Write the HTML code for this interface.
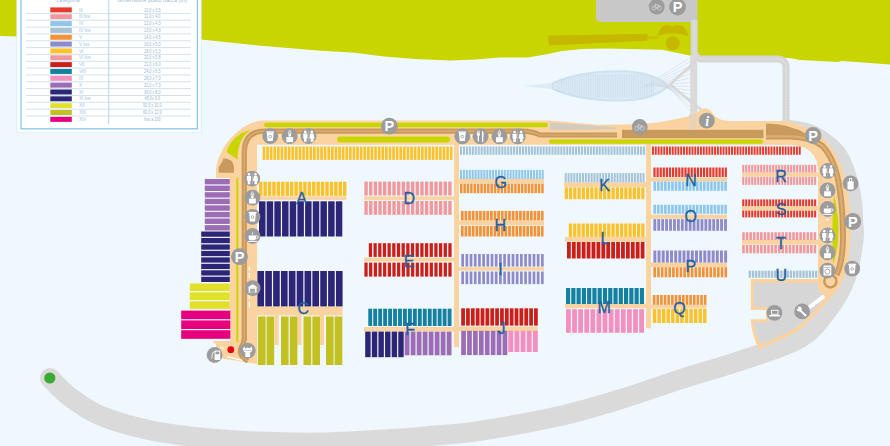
<!DOCTYPE html>
<html><head><meta charset="utf-8"><style>
html,body{margin:0;padding:0;background:#eff8fe;}
svg{display:block;font-family:"Liberation Sans",sans-serif;}
</style></head><body>
<svg width="890" height="446" viewBox="0 0 890 446">
<rect width="890" height="446" fill="#eff8fe"/>
<path d="M0 0H890V64.4L842 61L838 62L800 60L790 58L697 57V0H692L692 56L680 53.6L662 49.8L640 49.2L605 48.6L582 49L562 51L545 54.5L528 57.4L500 57.6L475 59.6L450 60.5L415 59L384 56.4L355 52.7L321 50.8L258 45.4L201 39.6L150 40.4L17 36.5L0 36Z" fill="#c9d500"/>
<path d="M548 35.4L647.6 33.8L647.6 40.8L549 45.5Z" fill="#c6b800"/>
<path d="M647 36.2L658 36L658 39L647 39.4Z" fill="#cbc400"/>
<circle cx="672.8" cy="43.2" r="7" fill="#c6b800"/>
<path d="M657.6 36.7Q659 29 663.2 26.1Q667 24.5 670.2 25.3L672 27L675 25.3Q680 24.8 682.3 26.1Q686.5 29 688.4 36.2Q680 32.6 672 33.6Q664 33.4 657.6 36.7Z" fill="#c6b800"/>
<path d="M596 0H697.5V22H601a5 5 0 0 1 -5 -5Z" fill="#c8c8c8"/>
<path d="M694.2 20V51a8 8 0 0 0 8 8H778a8 8 0 0 1 8 8V120" fill="none" stroke="#d6d6d6" stroke-width="7"/>
<path d="M694.2 20V51a8 8 0 0 0 8 8H778a8 8 0 0 1 8 8V120" fill="none" stroke="#efefef" stroke-width="1.1" stroke-dasharray="1 1.6"/>
<path d="M523.5 86L555 82.6V89.4Z" fill="#dcebf6"/>
<clipPath id="lc"><path d="M553 83C575 73 600 71 620 71.2C645 71.5 660 78 668.5 86C660 94 645 100.5 620 100.6C600 100.6 575 99 553 89Z"/></clipPath>
<path d="M553 83C575 73 600 71 620 71.2C645 71.5 660 78 668.5 86C660 94 645 100.5 620 100.6C600 100.6 575 99 553 89Z" fill="#deecf6" stroke="#cfe2f0" stroke-width="2"/>
<g clip-path="url(#lc)" stroke="#c3d9ea" stroke-width="0.55"><line x1="556.0" y1="74" x2="556.0" y2="98"/><line x1="557.8" y1="74" x2="557.8" y2="98"/><line x1="559.6" y1="74" x2="559.6" y2="98"/><line x1="561.4" y1="74" x2="561.4" y2="98"/><line x1="563.2" y1="74" x2="563.2" y2="98"/><line x1="565.0" y1="74" x2="565.0" y2="98"/><line x1="566.8" y1="74" x2="566.8" y2="98"/><line x1="568.6" y1="74" x2="568.6" y2="98"/><line x1="570.4" y1="74" x2="570.4" y2="98"/><line x1="572.2" y1="74" x2="572.2" y2="98"/><line x1="574.0" y1="74" x2="574.0" y2="98"/><line x1="575.8" y1="74" x2="575.8" y2="98"/><line x1="577.6" y1="74" x2="577.6" y2="98"/><line x1="579.4" y1="74" x2="579.4" y2="98"/><line x1="581.2" y1="74" x2="581.2" y2="98"/><line x1="583.0" y1="74" x2="583.0" y2="98"/><line x1="584.8" y1="74" x2="584.8" y2="98"/><line x1="586.6" y1="74" x2="586.6" y2="98"/><line x1="588.4" y1="74" x2="588.4" y2="98"/><line x1="590.2" y1="74" x2="590.2" y2="98"/><line x1="592.0" y1="74" x2="592.0" y2="98"/><line x1="593.8" y1="74" x2="593.8" y2="98"/><line x1="595.6" y1="74" x2="595.6" y2="98"/><line x1="597.4" y1="74" x2="597.4" y2="98"/><line x1="599.2" y1="74" x2="599.2" y2="98"/><line x1="601.0" y1="74" x2="601.0" y2="98"/><line x1="602.8" y1="74" x2="602.8" y2="98"/><line x1="604.6" y1="74" x2="604.6" y2="98"/><line x1="606.4" y1="74" x2="606.4" y2="98"/><line x1="608.2" y1="74" x2="608.2" y2="98"/><line x1="610.0" y1="74" x2="610.0" y2="98"/><line x1="611.8" y1="74" x2="611.8" y2="98"/><line x1="613.6" y1="74" x2="613.6" y2="98"/><line x1="615.4" y1="74" x2="615.4" y2="98"/><line x1="617.2" y1="74" x2="617.2" y2="98"/><line x1="619.0" y1="74" x2="619.0" y2="98"/><line x1="620.8" y1="74" x2="620.8" y2="98"/><line x1="622.6" y1="74" x2="622.6" y2="98"/><line x1="624.4" y1="74" x2="624.4" y2="98"/><line x1="626.2" y1="74" x2="626.2" y2="98"/><line x1="628.0" y1="74" x2="628.0" y2="98"/><line x1="629.8" y1="74" x2="629.8" y2="98"/><line x1="631.6" y1="74" x2="631.6" y2="98"/><line x1="633.4" y1="74" x2="633.4" y2="98"/><line x1="635.2" y1="74" x2="635.2" y2="98"/><line x1="637.0" y1="74" x2="637.0" y2="98"/><line x1="638.8" y1="74" x2="638.8" y2="98"/><line x1="640.6" y1="74" x2="640.6" y2="98"/><line x1="642.4" y1="74" x2="642.4" y2="98"/><line x1="644.2" y1="74" x2="644.2" y2="98"/><line x1="646.0" y1="74" x2="646.0" y2="98"/><line x1="647.8" y1="74" x2="647.8" y2="98"/><line x1="649.6" y1="74" x2="649.6" y2="98"/><line x1="651.4" y1="74" x2="651.4" y2="98"/><line x1="653.2" y1="74" x2="653.2" y2="98"/></g>
<rect x="690.3" y="55" width="6.9" height="75" fill="#dadada"/>
<g stroke="#c9d0d6" stroke-width="0.45" fill="none"><line x1="645.0" y1="86" x2="691" y2="57.0"/><line x1="646.8" y1="86" x2="691" y2="61.2"/><line x1="648.6" y1="86" x2="691" y2="65.4"/><line x1="650.4" y1="86" x2="691" y2="69.6"/><line x1="652.2" y1="86" x2="691" y2="73.8"/><line x1="654.0" y1="86" x2="691" y2="78.0"/><line x1="655.8" y1="86" x2="691" y2="82.2"/><line x1="657.6" y1="86" x2="691" y2="86.4"/><line x1="659.4" y1="86" x2="691" y2="90.6"/><line x1="661.2" y1="86" x2="691" y2="94.8"/><line x1="663.0" y1="86" x2="691" y2="99.0"/><line x1="664.8" y1="86" x2="691" y2="103.2"/><line x1="666.6" y1="86" x2="691" y2="107.4"/><line x1="668.4" y1="86" x2="691" y2="111.6"/></g>
<path d="M695 62L670 84.5L701.5 110" stroke="#d8d8d8" stroke-width="2.6" fill="none"/>
<path d="M50.0 378.0C53.3 381.2 61.7 390.8 70.0 397.0C78.3 403.2 86.7 409.9 100.0 415.5C113.3 421.1 133.3 426.6 150.0 430.3C166.7 434.0 181.7 435.6 200.0 437.5C218.3 439.4 240.0 440.8 260.0 441.6C280.0 442.5 300.0 442.9 320.0 442.6C340.0 442.3 361.7 440.9 380.0 439.8C398.3 438.7 413.3 437.5 430.0 436.0C446.7 434.5 458.3 434.1 480.0 430.8C501.7 427.5 536.7 421.2 560.0 416.0C583.3 410.8 599.9 405.5 620.0 399.4C640.1 393.3 660.5 385.7 680.7 379.2C700.9 372.7 721.5 367.3 741.4 360.5C761.3 353.7 785.4 347.1 800.0 338.3C814.6 329.6 821.3 318.2 829.0 308.0C836.7 297.8 841.9 288.3 846.0 277.0C850.1 265.7 852.3 249.2 853.5 240.0C854.7 230.8 853.4 227.8 853.2 222.0C853.0 216.2 853.2 211.5 852.4 205.0C851.6 198.5 849.9 189.4 848.3 183.0C846.7 176.6 845.1 171.5 843.0 166.5C840.9 161.5 839.0 157.2 835.5 153.0C832.0 148.8 826.8 144.3 822.0 141.0C817.2 137.7 812.5 134.9 806.5 133.0C800.5 131.1 789.4 130.1 786.0 129.5" fill="none" stroke="#dadada" stroke-width="20" stroke-linecap="round"/>
<circle cx="49.8" cy="378" r="5.6" fill="#3aaa35"/>
<rect x="16.8" y="-2" width="184.4" height="134.5" fill="#fff" stroke="#d6ebf8" stroke-width="0.8"/>
<rect x="21" y="-2" width="176.4" height="130.8" fill="none" stroke="#88c8ee" stroke-width="1.3"/>
<line x1="108.7" y1="0" x2="108.7" y2="124" stroke="#a9c9e0" stroke-width="0.8"/>
<text x="68" y="2.2" font-size="5.6" fill="#9cbcd8" text-anchor="middle">categoria</text>
<text x="152.4" y="2.2" font-size="5.6" fill="#9cbcd8" text-anchor="middle">dimensione posto barca (m)</text>
<rect x="50.30" y="7.40" width="21.50" height="5.00" fill="#e63a2c" />
<text x="79" y="11.5" font-size="4.6" fill="#9fc6e4">III</text>
<text transform="translate(152.3 11.5) scale(0.8 1)" font-size="4.7" fill="#98b4d0" text-anchor="middle">10,0 x 3,5</text>
<line x1="26" y1="13.4" x2="191" y2="13.4" stroke="#bcd6ea" stroke-width="0.7"/>
<rect x="50.30" y="14.24" width="21.50" height="5.00" fill="#f0989b" />
<text x="79" y="18.3" font-size="4.6" fill="#9fc6e4">III bis</text>
<text transform="translate(152.3 18.3) scale(0.8 1)" font-size="4.7" fill="#98b4d0" text-anchor="middle">11,0 x 4,0</text>
<line x1="26" y1="20.2" x2="191" y2="20.2" stroke="#bcd6ea" stroke-width="0.7"/>
<rect x="50.30" y="21.08" width="21.50" height="5.00" fill="#8fc6ec" />
<text x="79" y="25.2" font-size="4.6" fill="#9fc6e4">IV</text>
<text transform="translate(152.3 25.2) scale(0.8 1)" font-size="4.7" fill="#98b4d0" text-anchor="middle">12,0 x 4,3</text>
<line x1="26" y1="27.1" x2="191" y2="27.1" stroke="#bcd6ea" stroke-width="0.7"/>
<rect x="50.30" y="27.92" width="21.50" height="5.00" fill="#a6c3d6" />
<text x="79" y="32.0" font-size="4.6" fill="#9fc6e4">IV bis</text>
<text transform="translate(152.3 32.0) scale(0.8 1)" font-size="4.7" fill="#98b4d0" text-anchor="middle">13,0 x 4,3</text>
<line x1="26" y1="33.9" x2="191" y2="33.9" stroke="#bcd6ea" stroke-width="0.7"/>
<rect x="50.30" y="34.76" width="21.50" height="5.00" fill="#f39236" />
<text x="79" y="38.9" font-size="4.6" fill="#9fc6e4">V</text>
<text transform="translate(152.3 38.9) scale(0.8 1)" font-size="4.7" fill="#98b4d0" text-anchor="middle">14,0 x 4,5</text>
<line x1="26" y1="40.8" x2="191" y2="40.8" stroke="#bcd6ea" stroke-width="0.7"/>
<rect x="50.30" y="41.60" width="21.50" height="5.00" fill="#8f8bca" />
<text x="79" y="45.7" font-size="4.6" fill="#9fc6e4">V bis</text>
<text transform="translate(152.3 45.7) scale(0.8 1)" font-size="4.7" fill="#98b4d0" text-anchor="middle">16,0 x 5,0</text>
<line x1="26" y1="47.6" x2="191" y2="47.6" stroke="#bcd6ea" stroke-width="0.7"/>
<rect x="50.30" y="48.44" width="21.50" height="5.00" fill="#fcc22c" />
<text x="79" y="52.5" font-size="4.6" fill="#9fc6e4">VI</text>
<text transform="translate(152.3 52.5) scale(0.8 1)" font-size="4.7" fill="#98b4d0" text-anchor="middle">18,0 x 5,3</text>
<line x1="26" y1="54.4" x2="191" y2="54.4" stroke="#bcd6ea" stroke-width="0.7"/>
<rect x="50.30" y="55.28" width="21.50" height="5.00" fill="#f0989b" />
<text x="79" y="59.4" font-size="4.6" fill="#9fc6e4">VI bis</text>
<text transform="translate(152.3 59.4) scale(0.8 1)" font-size="4.7" fill="#98b4d0" text-anchor="middle">20,0 x 5,8</text>
<line x1="26" y1="61.3" x2="191" y2="61.3" stroke="#bcd6ea" stroke-width="0.7"/>
<rect x="50.30" y="62.12" width="21.50" height="5.00" fill="#cc1f1a" />
<text x="79" y="66.2" font-size="4.6" fill="#9fc6e4">VII</text>
<text transform="translate(152.3 66.2) scale(0.8 1)" font-size="4.7" fill="#98b4d0" text-anchor="middle">21,0 x 6,0</text>
<line x1="26" y1="68.1" x2="191" y2="68.1" stroke="#bcd6ea" stroke-width="0.7"/>
<rect x="50.30" y="68.96" width="21.50" height="5.00" fill="#13819f" />
<text x="79" y="73.1" font-size="4.6" fill="#9fc6e4">VIII</text>
<text transform="translate(152.3 73.1) scale(0.8 1)" font-size="4.7" fill="#98b4d0" text-anchor="middle">24,0 x 6,5</text>
<line x1="26" y1="75.0" x2="191" y2="75.0" stroke="#bcd6ea" stroke-width="0.7"/>
<rect x="50.30" y="75.80" width="21.50" height="5.00" fill="#f290c0" />
<text x="79" y="79.9" font-size="4.6" fill="#9fc6e4">IX</text>
<text transform="translate(152.3 79.9) scale(0.8 1)" font-size="4.7" fill="#98b4d0" text-anchor="middle">28,0 x 7,0</text>
<line x1="26" y1="81.8" x2="191" y2="81.8" stroke="#bcd6ea" stroke-width="0.7"/>
<rect x="50.30" y="82.64" width="21.50" height="5.00" fill="#9c6cb5" />
<text x="79" y="86.7" font-size="4.6" fill="#9fc6e4">X</text>
<text transform="translate(152.3 86.7) scale(0.8 1)" font-size="4.7" fill="#98b4d0" text-anchor="middle">32,0 x 7,3</text>
<line x1="26" y1="88.6" x2="191" y2="88.6" stroke="#bcd6ea" stroke-width="0.7"/>
<rect x="50.30" y="89.48" width="21.50" height="5.00" fill="#2d2676" />
<text x="79" y="93.6" font-size="4.6" fill="#9fc6e4">XI</text>
<text transform="translate(152.3 93.6) scale(0.8 1)" font-size="4.7" fill="#98b4d0" text-anchor="middle">36,0 x 8,0</text>
<line x1="26" y1="95.5" x2="191" y2="95.5" stroke="#bcd6ea" stroke-width="0.7"/>
<rect x="50.30" y="96.32" width="21.50" height="5.00" fill="#2d2676" />
<text x="79" y="100.4" font-size="4.6" fill="#9fc6e4">XI bis</text>
<text transform="translate(152.3 100.4) scale(0.8 1)" font-size="4.7" fill="#98b4d0" text-anchor="middle">45,0x 9,0</text>
<line x1="26" y1="102.3" x2="191" y2="102.3" stroke="#bcd6ea" stroke-width="0.7"/>
<rect x="50.30" y="103.16" width="21.50" height="5.00" fill="#e3e02b" />
<text x="79" y="107.3" font-size="4.6" fill="#9fc6e4">XII</text>
<text transform="translate(152.3 107.3) scale(0.8 1)" font-size="4.7" fill="#98b4d0" text-anchor="middle">50,0 x 10,0</text>
<line x1="26" y1="109.2" x2="191" y2="109.2" stroke="#bcd6ea" stroke-width="0.7"/>
<rect x="50.30" y="110.00" width="21.50" height="5.00" fill="#c3c021" />
<text x="79" y="114.1" font-size="4.6" fill="#9fc6e4">XIII</text>
<text transform="translate(152.3 114.1) scale(0.8 1)" font-size="4.7" fill="#98b4d0" text-anchor="middle">60,0 x 12,0</text>
<line x1="26" y1="116.0" x2="191" y2="116.0" stroke="#bcd6ea" stroke-width="0.7"/>
<rect x="50.30" y="116.84" width="21.50" height="5.00" fill="#e6007e" />
<text x="79" y="120.9" font-size="4.6" fill="#9fc6e4">XIV</text>
<text transform="translate(152.3 120.9) scale(0.8 1)" font-size="4.7" fill="#98b4d0" text-anchor="middle">fino a 100</text>
<path d="M775 121Q792 121 802 126Q812 129 818 134Q826 140 831 147Q837 155 840 163Q844 173 846 185Q849 198 850 212Q851 224 850.5 235Q850 246 849 255Q848 264 846 272Q844 280 840 286Q837.5 290.5 835 293L817.2 313Q808 322 803 327.2Q797 332 790 335.2L759 349.5Q755 342 752.2 331L750.8 322V319.2H766V310.1H750.8V279H818V172Q818 146 790 144.8H775Z" fill="#fbd3a0"/>
<path d="M754 282.5H818V287Q819.5 294.5 826.5 296.2L814.8 310.4Q806 320 800.6 324.4Q794 329 788.4 332.2L761.2 344.6Q757.5 338 755.2 330.5L754 322.2H769V307H754Z" fill="#d6d6d6"/>
<path d="M216 178V172C216 150 240 120.5 264 120.5H550L597 124.8C620 124.6 640 124.5 655 122.8C668 121.2 680 118.2 690 116C697 114 700 108.5 705 108.3C710 108.2 712 113 715 116C718 119 722 120.5 730 121H790V144.8H257V178Z" fill="#fbd3a0"/>
<rect x="230" y="144" width="27" height="200" fill="#fbd3a0"/>
<path d="M213 341.1H257V364L223 358.8L216 347Z" fill="#fbd3a0"/>
<rect x="264" y="122.8" width="284" height="4.5" rx="2.2" fill="#c9d500"/>
<rect x="337" y="136.4" width="113" height="6" rx="3" fill="#c9d500"/>
<rect x="549" y="139.4" width="214" height="4.4" rx="2.2" fill="#c9d500"/>
<path d="M550 122.6L616 127.4V129.3L550 130Z" fill="#d2cbbf"/>
<path d="M250.8 129.5C238 133 229 142 226.7 152L237.5 159.5C237.5 147 241 136 250.8 129.5Z" fill="#c9d500"/>
<path d="M218.6 172.7V167.2Q221.5 164 223.6 158.2Q233.6 158.8 234 167V172.7Z" fill="#c99a5e"/>
<path d="M244.3 340V152Q244.8 131.2 264 131.2H522Q532 131.2 540 135H617" fill="none" stroke="#c99a5e" stroke-width="5.2"/>
<path d="M244.3 340V152Q244.8 131.2 264 131.2H522Q532 131.2 540 135H617" fill="none" stroke="#dcae72" stroke-width="1.2"/>
<path d="M244.3 338Q244.3 342 241.5 347Q239 352 242 356Q244 359 248 361" fill="none" stroke="#c99a5e" stroke-width="5.2"/>
<path d="M244.3 338Q244.3 342 241.5 347Q239 352 242 356Q244 359 248 361" fill="none" stroke="#dcae72" stroke-width="1.2"/>
<path d="M249.3 266.4V270.2M249.3 273V277.9M249.3 293V298.8M249.3 301.7V307.4" stroke="#fff" stroke-width="1.3"/>
<path d="M215.3 343.6V347M220.5 346.6L224.4 349.2M227.2 356.6L242.4 360.3" stroke="#fff" stroke-width="1.3" fill="none"/>
<rect x="622" y="129.8" width="141.5" height="8.4" fill="#c99a5e"/>
<path d="M766 123.6Q790 124 806 134L804 135H766Z" fill="#c99a5e"/>
<path d="M766 136.4H790Q810 136.6 822.5 146Q835.5 160 839.5 188Q843.2 212 843 240Q842.5 262 836.5 275" fill="none" stroke="#c99a5e" stroke-width="6"/>
<path d="M766 136.4H790Q810 136.6 822.5 146Q835.5 160 839.5 188Q843.2 212 843 240Q842.5 262 836.5 275" fill="none" stroke="#dcae72" stroke-width="2.2"/>
<circle cx="830.4" cy="281.3" r="6.1" fill="none" stroke="#c99a5e" stroke-width="2.5"/>
<path d="M834 195Q839 215 838.4 232Q838 252 833 264Q832.4 250 832.4 232Q832.4 212 834 195Z" fill="#c9d500"/>
<rect x="236.3" y="178" width="2" height="164" fill="#c9d500"/>
<rect x="689" y="114.5" width="7.8" height="15" fill="#e9d3b8"/>
<rect x="454.00" y="144.00" width="5.00" height="203.30" fill="#fbd3a0" />
<rect x="646.00" y="144.00" width="5.00" height="184.30" fill="#fbd3a0" />
<rect x="364.00" y="196.40" width="90.00" height="3.50" fill="#fbd3a0" />
<rect x="364.00" y="257.60" width="90.00" height="3.90" fill="#fbd3a0" />
<rect x="364.00" y="327.00" width="95.00" height="4.50" fill="#fbd3a0" />
<rect x="459.00" y="178.80" width="85.00" height="4.80" fill="#fbd3a0" />
<rect x="459.00" y="220.70" width="85.00" height="4.30" fill="#fbd3a0" />
<rect x="459.00" y="267.20" width="85.00" height="3.40" fill="#fbd3a0" />
<rect x="459.00" y="326.50" width="78.60" height="5.00" fill="#fbd3a0" />
<rect x="564.00" y="182.40" width="82.00" height="4.60" fill="#fbd3a0" />
<rect x="565.00" y="237.00" width="81.00" height="4.80" fill="#fbd3a0" />
<rect x="565.00" y="303.60" width="81.00" height="4.60" fill="#fbd3a0" />
<rect x="651.00" y="177.40" width="76.00" height="4.00" fill="#fbd3a0" />
<rect x="651.00" y="214.60" width="76.00" height="4.20" fill="#fbd3a0" />
<rect x="651.00" y="262.50" width="76.00" height="4.50" fill="#fbd3a0" />
<rect x="651.00" y="304.70" width="55.30" height="3.90" fill="#fbd3a0" />
<rect x="742.00" y="172.50" width="76.00" height="4.10" fill="#fbd3a0" />
<rect x="742.00" y="206.10" width="76.00" height="4.30" fill="#fbd3a0" />
<rect x="742.00" y="239.80" width="76.00" height="4.80" fill="#fbd3a0" />
<rect x="257.00" y="196.30" width="89.40" height="3.50" fill="#fbd3a0" />
<rect x="257.00" y="306.40" width="85.60" height="9.10" fill="#fbd3a0" />
<rect x="274.60" y="315.00" width="4.00" height="30.00" fill="#fbd3a0" />
<rect x="297.40" y="315.00" width="4.00" height="30.00" fill="#fbd3a0" />
<rect x="320.00" y="315.00" width="4.00" height="30.00" fill="#fbd3a0" />
<g fill="#fcc22c"><rect x="262.60" y="146.50" width="2.70" height="13.40"/><rect x="266.20" y="146.50" width="2.70" height="13.40"/><rect x="269.80" y="146.50" width="2.70" height="13.40"/><rect x="273.40" y="146.50" width="2.70" height="13.40"/><rect x="277.00" y="146.50" width="2.70" height="13.40"/><rect x="280.60" y="146.50" width="2.70" height="13.40"/><rect x="284.20" y="146.50" width="2.70" height="13.40"/><rect x="287.80" y="146.50" width="2.70" height="13.40"/><rect x="291.40" y="146.50" width="2.70" height="13.40"/><rect x="295.00" y="146.50" width="2.70" height="13.40"/><rect x="298.60" y="146.50" width="2.70" height="13.40"/><rect x="302.20" y="146.50" width="2.70" height="13.40"/><rect x="305.80" y="146.50" width="2.70" height="13.40"/><rect x="309.40" y="146.50" width="2.70" height="13.40"/><rect x="313.00" y="146.50" width="2.70" height="13.40"/><rect x="316.60" y="146.50" width="2.70" height="13.40"/><rect x="320.20" y="146.50" width="2.70" height="13.40"/><rect x="323.80" y="146.50" width="2.70" height="13.40"/><rect x="327.40" y="146.50" width="2.70" height="13.40"/><rect x="331.00" y="146.50" width="2.70" height="13.40"/><rect x="334.60" y="146.50" width="2.70" height="13.40"/><rect x="338.20" y="146.50" width="2.70" height="13.40"/><rect x="341.80" y="146.50" width="2.70" height="13.40"/><rect x="345.40" y="146.50" width="2.70" height="13.40"/><rect x="349.00" y="146.50" width="2.70" height="13.40"/><rect x="352.60" y="146.50" width="2.70" height="13.40"/><rect x="356.20" y="146.50" width="2.70" height="13.40"/><rect x="359.80" y="146.50" width="2.70" height="13.40"/><rect x="363.40" y="146.50" width="2.70" height="13.40"/><rect x="367.00" y="146.50" width="2.70" height="13.40"/><rect x="370.60" y="146.50" width="2.70" height="13.40"/><rect x="374.20" y="146.50" width="2.70" height="13.40"/><rect x="377.80" y="146.50" width="2.70" height="13.40"/><rect x="381.40" y="146.50" width="2.70" height="13.40"/><rect x="385.00" y="146.50" width="2.70" height="13.40"/><rect x="388.60" y="146.50" width="2.70" height="13.40"/><rect x="392.20" y="146.50" width="2.70" height="13.40"/><rect x="395.80" y="146.50" width="2.70" height="13.40"/><rect x="399.40" y="146.50" width="2.70" height="13.40"/><rect x="403.00" y="146.50" width="2.70" height="13.40"/><rect x="406.60" y="146.50" width="2.70" height="13.40"/><rect x="410.20" y="146.50" width="2.70" height="13.40"/><rect x="413.80" y="146.50" width="2.70" height="13.40"/><rect x="417.40" y="146.50" width="2.70" height="13.40"/><rect x="421.00" y="146.50" width="2.70" height="13.40"/><rect x="424.60" y="146.50" width="2.70" height="13.40"/><rect x="428.20" y="146.50" width="2.70" height="13.40"/><rect x="431.80" y="146.50" width="2.70" height="13.40"/><rect x="435.40" y="146.50" width="2.70" height="13.40"/><rect x="439.00" y="146.50" width="2.70" height="13.40"/><rect x="442.60" y="146.50" width="2.70" height="13.40"/><rect x="446.20" y="146.50" width="2.70" height="13.40"/><rect x="449.80" y="146.50" width="2.70" height="13.40"/></g>
<g fill="#a6c3d6"><rect x="460.00" y="146.50" width="2.05" height="8.30"/><rect x="462.95" y="146.50" width="2.05" height="8.30"/><rect x="465.90" y="146.50" width="2.05" height="8.30"/><rect x="468.85" y="146.50" width="2.05" height="8.30"/><rect x="471.80" y="146.50" width="2.05" height="8.30"/><rect x="474.75" y="146.50" width="2.05" height="8.30"/><rect x="477.70" y="146.50" width="2.05" height="8.30"/><rect x="480.66" y="146.50" width="2.05" height="8.30"/><rect x="483.61" y="146.50" width="2.05" height="8.30"/><rect x="486.56" y="146.50" width="2.05" height="8.30"/><rect x="489.51" y="146.50" width="2.05" height="8.30"/><rect x="492.46" y="146.50" width="2.05" height="8.30"/><rect x="495.41" y="146.50" width="2.05" height="8.30"/><rect x="498.36" y="146.50" width="2.05" height="8.30"/><rect x="501.31" y="146.50" width="2.05" height="8.30"/><rect x="504.26" y="146.50" width="2.05" height="8.30"/><rect x="507.21" y="146.50" width="2.05" height="8.30"/><rect x="510.16" y="146.50" width="2.05" height="8.30"/><rect x="513.11" y="146.50" width="2.05" height="8.30"/><rect x="516.07" y="146.50" width="2.05" height="8.30"/><rect x="519.02" y="146.50" width="2.05" height="8.30"/><rect x="521.97" y="146.50" width="2.05" height="8.30"/><rect x="524.92" y="146.50" width="2.05" height="8.30"/><rect x="527.87" y="146.50" width="2.05" height="8.30"/><rect x="530.82" y="146.50" width="2.05" height="8.30"/><rect x="533.77" y="146.50" width="2.05" height="8.30"/><rect x="536.72" y="146.50" width="2.05" height="8.30"/><rect x="539.67" y="146.50" width="2.05" height="8.30"/><rect x="542.62" y="146.50" width="2.05" height="8.30"/><rect x="545.57" y="146.50" width="2.05" height="8.30"/><rect x="548.52" y="146.50" width="2.05" height="8.30"/><rect x="551.47" y="146.50" width="2.05" height="8.30"/><rect x="554.43" y="146.50" width="2.05" height="8.30"/><rect x="557.38" y="146.50" width="2.05" height="8.30"/><rect x="560.33" y="146.50" width="2.05" height="8.30"/><rect x="563.28" y="146.50" width="2.05" height="8.30"/><rect x="566.23" y="146.50" width="2.05" height="8.30"/><rect x="569.18" y="146.50" width="2.05" height="8.30"/><rect x="572.13" y="146.50" width="2.05" height="8.30"/><rect x="575.08" y="146.50" width="2.05" height="8.30"/><rect x="578.03" y="146.50" width="2.05" height="8.30"/><rect x="580.98" y="146.50" width="2.05" height="8.30"/><rect x="583.93" y="146.50" width="2.05" height="8.30"/><rect x="586.88" y="146.50" width="2.05" height="8.30"/><rect x="589.83" y="146.50" width="2.05" height="8.30"/><rect x="592.79" y="146.50" width="2.05" height="8.30"/><rect x="595.74" y="146.50" width="2.05" height="8.30"/><rect x="598.69" y="146.50" width="2.05" height="8.30"/><rect x="601.64" y="146.50" width="2.05" height="8.30"/><rect x="604.59" y="146.50" width="2.05" height="8.30"/><rect x="607.54" y="146.50" width="2.05" height="8.30"/><rect x="610.49" y="146.50" width="2.05" height="8.30"/><rect x="613.44" y="146.50" width="2.05" height="8.30"/><rect x="616.39" y="146.50" width="2.05" height="8.30"/><rect x="619.34" y="146.50" width="2.05" height="8.30"/><rect x="622.29" y="146.50" width="2.05" height="8.30"/><rect x="625.24" y="146.50" width="2.05" height="8.30"/><rect x="628.20" y="146.50" width="2.05" height="8.30"/><rect x="631.15" y="146.50" width="2.05" height="8.30"/><rect x="634.10" y="146.50" width="2.05" height="8.30"/><rect x="637.05" y="146.50" width="2.05" height="8.30"/><rect x="640.00" y="146.50" width="2.05" height="8.30"/><rect x="642.95" y="146.50" width="2.05" height="8.30"/></g>
<g fill="#e63a2c"><rect x="652.00" y="146.50" width="1.92" height="8.30"/><rect x="654.82" y="146.50" width="1.92" height="8.30"/><rect x="657.65" y="146.50" width="1.92" height="8.30"/><rect x="660.47" y="146.50" width="1.92" height="8.30"/><rect x="663.29" y="146.50" width="1.92" height="8.30"/><rect x="666.11" y="146.50" width="1.92" height="8.30"/><rect x="668.94" y="146.50" width="1.92" height="8.30"/><rect x="671.76" y="146.50" width="1.92" height="8.30"/><rect x="674.58" y="146.50" width="1.92" height="8.30"/><rect x="677.40" y="146.50" width="1.92" height="8.30"/><rect x="680.23" y="146.50" width="1.92" height="8.30"/><rect x="683.05" y="146.50" width="1.92" height="8.30"/><rect x="685.87" y="146.50" width="1.92" height="8.30"/><rect x="688.69" y="146.50" width="1.92" height="8.30"/><rect x="691.52" y="146.50" width="1.92" height="8.30"/><rect x="694.34" y="146.50" width="1.92" height="8.30"/><rect x="697.16" y="146.50" width="1.92" height="8.30"/><rect x="699.98" y="146.50" width="1.92" height="8.30"/><rect x="702.81" y="146.50" width="1.92" height="8.30"/><rect x="705.63" y="146.50" width="1.92" height="8.30"/><rect x="708.45" y="146.50" width="1.92" height="8.30"/><rect x="711.28" y="146.50" width="1.92" height="8.30"/><rect x="714.10" y="146.50" width="1.92" height="8.30"/><rect x="716.92" y="146.50" width="1.92" height="8.30"/><rect x="719.74" y="146.50" width="1.92" height="8.30"/><rect x="722.57" y="146.50" width="1.92" height="8.30"/><rect x="725.39" y="146.50" width="1.92" height="8.30"/><rect x="728.21" y="146.50" width="1.92" height="8.30"/><rect x="731.03" y="146.50" width="1.92" height="8.30"/><rect x="733.86" y="146.50" width="1.92" height="8.30"/><rect x="736.68" y="146.50" width="1.92" height="8.30"/><rect x="739.50" y="146.50" width="1.92" height="8.30"/><rect x="742.32" y="146.50" width="1.92" height="8.30"/><rect x="745.15" y="146.50" width="1.92" height="8.30"/><rect x="747.97" y="146.50" width="1.92" height="8.30"/><rect x="750.79" y="146.50" width="1.92" height="8.30"/><rect x="753.62" y="146.50" width="1.92" height="8.30"/><rect x="756.44" y="146.50" width="1.92" height="8.30"/><rect x="759.26" y="146.50" width="1.92" height="8.30"/><rect x="762.08" y="146.50" width="1.92" height="8.30"/><rect x="764.91" y="146.50" width="1.92" height="8.30"/><rect x="767.73" y="146.50" width="1.92" height="8.30"/><rect x="770.55" y="146.50" width="1.92" height="8.30"/><rect x="773.37" y="146.50" width="1.92" height="8.30"/><rect x="776.20" y="146.50" width="1.92" height="8.30"/><rect x="779.02" y="146.50" width="1.92" height="8.30"/><rect x="781.84" y="146.50" width="1.92" height="8.30"/><rect x="784.66" y="146.50" width="1.92" height="8.30"/><rect x="787.49" y="146.50" width="1.92" height="8.30"/><rect x="790.31" y="146.50" width="1.92" height="8.30"/><rect x="793.13" y="146.50" width="1.92" height="8.30"/><rect x="795.95" y="146.50" width="1.92" height="8.30"/><rect x="798.78" y="146.50" width="1.92" height="8.30"/></g>
<g fill="#fcc22c"><rect x="259.00" y="181.70" width="3.42" height="14.20"/><rect x="263.42" y="181.70" width="3.42" height="14.20"/><rect x="267.84" y="181.70" width="3.42" height="14.20"/><rect x="272.26" y="181.70" width="3.42" height="14.20"/><rect x="276.68" y="181.70" width="3.42" height="14.20"/><rect x="281.10" y="181.70" width="3.42" height="14.20"/><rect x="285.52" y="181.70" width="3.42" height="14.20"/><rect x="289.94" y="181.70" width="3.42" height="14.20"/><rect x="294.36" y="181.70" width="3.42" height="14.20"/><rect x="298.78" y="181.70" width="3.42" height="14.20"/><rect x="303.20" y="181.70" width="3.42" height="14.20"/><rect x="307.62" y="181.70" width="3.42" height="14.20"/><rect x="312.04" y="181.70" width="3.42" height="14.20"/><rect x="316.46" y="181.70" width="3.42" height="14.20"/><rect x="320.88" y="181.70" width="3.42" height="14.20"/><rect x="325.30" y="181.70" width="3.42" height="14.20"/><rect x="329.72" y="181.70" width="3.42" height="14.20"/><rect x="334.14" y="181.70" width="3.42" height="14.20"/><rect x="338.56" y="181.70" width="3.42" height="14.20"/><rect x="342.98" y="181.70" width="3.42" height="14.20"/></g>
<g fill="#2d2676"><rect x="259.00" y="201.30" width="6.48" height="35.20"/><rect x="266.68" y="201.30" width="6.48" height="35.20"/><rect x="274.36" y="201.30" width="6.48" height="35.20"/><rect x="282.05" y="201.30" width="6.48" height="35.20"/><rect x="289.73" y="201.30" width="6.48" height="35.20"/><rect x="297.41" y="201.30" width="6.48" height="35.20"/><rect x="305.09" y="201.30" width="6.48" height="35.20"/><rect x="312.77" y="201.30" width="6.48" height="35.20"/><rect x="320.45" y="201.30" width="6.48" height="35.20"/><rect x="328.14" y="201.30" width="6.48" height="35.20"/><rect x="335.82" y="201.30" width="6.48" height="35.20"/></g>
<g fill="#2d2676"><rect x="257.40" y="271.00" width="6.65" height="35.40"/><rect x="265.25" y="271.00" width="6.65" height="35.40"/><rect x="273.11" y="271.00" width="6.65" height="35.40"/><rect x="280.96" y="271.00" width="6.65" height="35.40"/><rect x="288.82" y="271.00" width="6.65" height="35.40"/><rect x="296.67" y="271.00" width="6.65" height="35.40"/><rect x="304.53" y="271.00" width="6.65" height="35.40"/><rect x="312.38" y="271.00" width="6.65" height="35.40"/><rect x="320.24" y="271.00" width="6.65" height="35.40"/><rect x="328.09" y="271.00" width="6.65" height="35.40"/><rect x="335.95" y="271.00" width="6.65" height="35.40"/></g>
<rect x="257.90" y="316.50" width="7.70" height="48.50" fill="#c3c021" />
<rect x="266.60" y="316.50" width="7.60" height="48.50" fill="#c3c021" />
<rect x="281.00" y="316.50" width="7.60" height="48.50" fill="#c3c021" />
<rect x="289.80" y="316.50" width="7.60" height="48.50" fill="#c3c021" />
<rect x="303.50" y="316.50" width="7.70" height="48.50" fill="#c3c021" />
<rect x="312.40" y="316.50" width="7.60" height="48.50" fill="#c3c021" />
<rect x="326.00" y="316.50" width="7.60" height="48.50" fill="#c3c021" />
<rect x="334.60" y="316.50" width="7.70" height="48.50" fill="#c3c021" />
<g fill="#f0989b"><rect x="364.40" y="181.60" width="3.36" height="13.90"/><rect x="369.06" y="181.60" width="3.36" height="13.90"/><rect x="373.72" y="181.60" width="3.36" height="13.90"/><rect x="378.37" y="181.60" width="3.36" height="13.90"/><rect x="383.03" y="181.60" width="3.36" height="13.90"/><rect x="387.69" y="181.60" width="3.36" height="13.90"/><rect x="392.35" y="181.60" width="3.36" height="13.90"/><rect x="397.01" y="181.60" width="3.36" height="13.90"/><rect x="401.66" y="181.60" width="3.36" height="13.90"/><rect x="406.32" y="181.60" width="3.36" height="13.90"/><rect x="410.98" y="181.60" width="3.36" height="13.90"/><rect x="415.64" y="181.60" width="3.36" height="13.90"/><rect x="420.29" y="181.60" width="3.36" height="13.90"/><rect x="424.95" y="181.60" width="3.36" height="13.90"/><rect x="429.61" y="181.60" width="3.36" height="13.90"/><rect x="434.27" y="181.60" width="3.36" height="13.90"/><rect x="438.93" y="181.60" width="3.36" height="13.90"/><rect x="443.58" y="181.60" width="3.36" height="13.90"/><rect x="448.24" y="181.60" width="3.36" height="13.90"/></g>
<g fill="#f0989b"><rect x="364.40" y="200.90" width="3.36" height="13.90"/><rect x="369.06" y="200.90" width="3.36" height="13.90"/><rect x="373.72" y="200.90" width="3.36" height="13.90"/><rect x="378.37" y="200.90" width="3.36" height="13.90"/><rect x="383.03" y="200.90" width="3.36" height="13.90"/><rect x="387.69" y="200.90" width="3.36" height="13.90"/><rect x="392.35" y="200.90" width="3.36" height="13.90"/><rect x="397.01" y="200.90" width="3.36" height="13.90"/><rect x="401.66" y="200.90" width="3.36" height="13.90"/><rect x="406.32" y="200.90" width="3.36" height="13.90"/><rect x="410.98" y="200.90" width="3.36" height="13.90"/><rect x="415.64" y="200.90" width="3.36" height="13.90"/><rect x="420.29" y="200.90" width="3.36" height="13.90"/><rect x="424.95" y="200.90" width="3.36" height="13.90"/><rect x="429.61" y="200.90" width="3.36" height="13.90"/><rect x="434.27" y="200.90" width="3.36" height="13.90"/><rect x="438.93" y="200.90" width="3.36" height="13.90"/><rect x="443.58" y="200.90" width="3.36" height="13.90"/><rect x="448.24" y="200.90" width="3.36" height="13.90"/></g>
<g fill="#cc1f1a"><rect x="368.80" y="243.20" width="3.28" height="13.70"/><rect x="373.48" y="243.20" width="3.28" height="13.70"/><rect x="378.16" y="243.20" width="3.28" height="13.70"/><rect x="382.83" y="243.20" width="3.28" height="13.70"/><rect x="387.51" y="243.20" width="3.28" height="13.70"/><rect x="392.19" y="243.20" width="3.28" height="13.70"/><rect x="396.87" y="243.20" width="3.28" height="13.70"/><rect x="401.54" y="243.20" width="3.28" height="13.70"/><rect x="406.22" y="243.20" width="3.28" height="13.70"/><rect x="410.90" y="243.20" width="3.28" height="13.70"/><rect x="415.58" y="243.20" width="3.28" height="13.70"/><rect x="420.26" y="243.20" width="3.28" height="13.70"/><rect x="424.93" y="243.20" width="3.28" height="13.70"/><rect x="429.61" y="243.20" width="3.28" height="13.70"/><rect x="434.29" y="243.20" width="3.28" height="13.70"/><rect x="438.97" y="243.20" width="3.28" height="13.70"/><rect x="443.64" y="243.20" width="3.28" height="13.70"/><rect x="448.32" y="243.20" width="3.28" height="13.70"/></g>
<g fill="#cc1f1a"><rect x="364.40" y="262.60" width="3.26" height="14.00"/><rect x="369.06" y="262.60" width="3.26" height="14.00"/><rect x="373.73" y="262.60" width="3.26" height="14.00"/><rect x="378.39" y="262.60" width="3.26" height="14.00"/><rect x="383.05" y="262.60" width="3.26" height="14.00"/><rect x="387.72" y="262.60" width="3.26" height="14.00"/><rect x="392.38" y="262.60" width="3.26" height="14.00"/><rect x="397.04" y="262.60" width="3.26" height="14.00"/><rect x="401.71" y="262.60" width="3.26" height="14.00"/><rect x="406.37" y="262.60" width="3.26" height="14.00"/><rect x="411.03" y="262.60" width="3.26" height="14.00"/><rect x="415.69" y="262.60" width="3.26" height="14.00"/><rect x="420.36" y="262.60" width="3.26" height="14.00"/><rect x="425.02" y="262.60" width="3.26" height="14.00"/><rect x="429.68" y="262.60" width="3.26" height="14.00"/><rect x="434.35" y="262.60" width="3.26" height="14.00"/><rect x="439.01" y="262.60" width="3.26" height="14.00"/><rect x="443.67" y="262.60" width="3.26" height="14.00"/><rect x="448.34" y="262.60" width="3.26" height="14.00"/></g>
<g fill="#13819f"><rect x="368.30" y="308.70" width="3.86" height="17.30"/><rect x="373.26" y="308.70" width="3.86" height="17.30"/><rect x="378.22" y="308.70" width="3.86" height="17.30"/><rect x="383.18" y="308.70" width="3.86" height="17.30"/><rect x="388.14" y="308.70" width="3.86" height="17.30"/><rect x="393.09" y="308.70" width="3.86" height="17.30"/><rect x="398.05" y="308.70" width="3.86" height="17.30"/><rect x="403.01" y="308.70" width="3.86" height="17.30"/><rect x="407.97" y="308.70" width="3.86" height="17.30"/><rect x="412.93" y="308.70" width="3.86" height="17.30"/><rect x="417.89" y="308.70" width="3.86" height="17.30"/><rect x="422.85" y="308.70" width="3.86" height="17.30"/><rect x="427.81" y="308.70" width="3.86" height="17.30"/><rect x="432.76" y="308.70" width="3.86" height="17.30"/><rect x="437.72" y="308.70" width="3.86" height="17.30"/><rect x="442.68" y="308.70" width="3.86" height="17.30"/><rect x="447.64" y="308.70" width="3.86" height="17.30"/></g>
<g fill="#2d2676"><rect x="365.20" y="331.60" width="5.42" height="25.60"/><rect x="371.82" y="331.60" width="5.42" height="25.60"/><rect x="378.43" y="331.60" width="5.42" height="25.60"/><rect x="385.05" y="331.60" width="5.42" height="25.60"/><rect x="391.67" y="331.60" width="5.42" height="25.60"/><rect x="398.28" y="331.60" width="5.42" height="25.60"/></g>
<g fill="#9c6cb5"><rect x="404.70" y="331.60" width="4.80" height="23.70"/><rect x="410.70" y="331.60" width="4.80" height="23.70"/><rect x="416.70" y="331.60" width="4.80" height="23.70"/><rect x="422.70" y="331.60" width="4.80" height="23.70"/><rect x="428.70" y="331.60" width="4.80" height="23.70"/><rect x="434.70" y="331.60" width="4.80" height="23.70"/><rect x="440.70" y="331.60" width="4.80" height="23.70"/><rect x="446.70" y="331.60" width="4.80" height="23.70"/></g>
<g fill="#8fc6ec"><rect x="460.00" y="169.90" width="2.02" height="9.10"/><rect x="462.92" y="169.90" width="2.02" height="9.10"/><rect x="465.83" y="169.90" width="2.02" height="9.10"/><rect x="468.75" y="169.90" width="2.02" height="9.10"/><rect x="471.67" y="169.90" width="2.02" height="9.10"/><rect x="474.59" y="169.90" width="2.02" height="9.10"/><rect x="477.50" y="169.90" width="2.02" height="9.10"/><rect x="480.42" y="169.90" width="2.02" height="9.10"/><rect x="483.34" y="169.90" width="2.02" height="9.10"/><rect x="486.26" y="169.90" width="2.02" height="9.10"/><rect x="489.17" y="169.90" width="2.02" height="9.10"/><rect x="492.09" y="169.90" width="2.02" height="9.10"/><rect x="495.01" y="169.90" width="2.02" height="9.10"/><rect x="497.92" y="169.90" width="2.02" height="9.10"/><rect x="500.84" y="169.90" width="2.02" height="9.10"/><rect x="503.76" y="169.90" width="2.02" height="9.10"/><rect x="506.68" y="169.90" width="2.02" height="9.10"/><rect x="509.59" y="169.90" width="2.02" height="9.10"/><rect x="512.51" y="169.90" width="2.02" height="9.10"/><rect x="515.43" y="169.90" width="2.02" height="9.10"/><rect x="518.34" y="169.90" width="2.02" height="9.10"/><rect x="521.26" y="169.90" width="2.02" height="9.10"/><rect x="524.18" y="169.90" width="2.02" height="9.10"/><rect x="527.10" y="169.90" width="2.02" height="9.10"/><rect x="530.01" y="169.90" width="2.02" height="9.10"/><rect x="532.93" y="169.90" width="2.02" height="9.10"/><rect x="535.85" y="169.90" width="2.02" height="9.10"/><rect x="538.77" y="169.90" width="2.02" height="9.10"/><rect x="541.68" y="169.90" width="2.02" height="9.10"/></g>
<g fill="#f39236"><rect x="460.00" y="183.70" width="2.48" height="9.50"/><rect x="463.38" y="183.70" width="2.48" height="9.50"/><rect x="466.77" y="183.70" width="2.48" height="9.50"/><rect x="470.15" y="183.70" width="2.48" height="9.50"/><rect x="473.54" y="183.70" width="2.48" height="9.50"/><rect x="476.92" y="183.70" width="2.48" height="9.50"/><rect x="480.30" y="183.70" width="2.48" height="9.50"/><rect x="483.69" y="183.70" width="2.48" height="9.50"/><rect x="487.07" y="183.70" width="2.48" height="9.50"/><rect x="490.46" y="183.70" width="2.48" height="9.50"/><rect x="493.84" y="183.70" width="2.48" height="9.50"/><rect x="497.22" y="183.70" width="2.48" height="9.50"/><rect x="500.61" y="183.70" width="2.48" height="9.50"/><rect x="503.99" y="183.70" width="2.48" height="9.50"/><rect x="507.38" y="183.70" width="2.48" height="9.50"/><rect x="510.76" y="183.70" width="2.48" height="9.50"/><rect x="514.14" y="183.70" width="2.48" height="9.50"/><rect x="517.53" y="183.70" width="2.48" height="9.50"/><rect x="520.91" y="183.70" width="2.48" height="9.50"/><rect x="524.30" y="183.70" width="2.48" height="9.50"/><rect x="527.68" y="183.70" width="2.48" height="9.50"/><rect x="531.06" y="183.70" width="2.48" height="9.50"/><rect x="534.45" y="183.70" width="2.48" height="9.50"/><rect x="537.83" y="183.70" width="2.48" height="9.50"/><rect x="541.22" y="183.70" width="2.48" height="9.50"/></g>
<g fill="#f39236"><rect x="460.90" y="210.90" width="2.73" height="9.60"/><rect x="464.53" y="210.90" width="2.73" height="9.60"/><rect x="468.17" y="210.90" width="2.73" height="9.60"/><rect x="471.80" y="210.90" width="2.73" height="9.60"/><rect x="475.44" y="210.90" width="2.73" height="9.60"/><rect x="479.07" y="210.90" width="2.73" height="9.60"/><rect x="482.71" y="210.90" width="2.73" height="9.60"/><rect x="486.34" y="210.90" width="2.73" height="9.60"/><rect x="489.98" y="210.90" width="2.73" height="9.60"/><rect x="493.61" y="210.90" width="2.73" height="9.60"/><rect x="497.25" y="210.90" width="2.73" height="9.60"/><rect x="500.88" y="210.90" width="2.73" height="9.60"/><rect x="504.52" y="210.90" width="2.73" height="9.60"/><rect x="508.15" y="210.90" width="2.73" height="9.60"/><rect x="511.79" y="210.90" width="2.73" height="9.60"/><rect x="515.42" y="210.90" width="2.73" height="9.60"/><rect x="519.06" y="210.90" width="2.73" height="9.60"/><rect x="522.69" y="210.90" width="2.73" height="9.60"/><rect x="526.33" y="210.90" width="2.73" height="9.60"/><rect x="529.96" y="210.90" width="2.73" height="9.60"/><rect x="533.60" y="210.90" width="2.73" height="9.60"/><rect x="537.23" y="210.90" width="2.73" height="9.60"/><rect x="540.87" y="210.90" width="2.73" height="9.60"/></g>
<g fill="#f39236"><rect x="460.90" y="225.80" width="2.73" height="10.70"/><rect x="464.53" y="225.80" width="2.73" height="10.70"/><rect x="468.17" y="225.80" width="2.73" height="10.70"/><rect x="471.80" y="225.80" width="2.73" height="10.70"/><rect x="475.44" y="225.80" width="2.73" height="10.70"/><rect x="479.07" y="225.80" width="2.73" height="10.70"/><rect x="482.71" y="225.80" width="2.73" height="10.70"/><rect x="486.34" y="225.80" width="2.73" height="10.70"/><rect x="489.98" y="225.80" width="2.73" height="10.70"/><rect x="493.61" y="225.80" width="2.73" height="10.70"/><rect x="497.25" y="225.80" width="2.73" height="10.70"/><rect x="500.88" y="225.80" width="2.73" height="10.70"/><rect x="504.52" y="225.80" width="2.73" height="10.70"/><rect x="508.15" y="225.80" width="2.73" height="10.70"/><rect x="511.79" y="225.80" width="2.73" height="10.70"/><rect x="515.42" y="225.80" width="2.73" height="10.70"/><rect x="519.06" y="225.80" width="2.73" height="10.70"/><rect x="522.69" y="225.80" width="2.73" height="10.70"/><rect x="526.33" y="225.80" width="2.73" height="10.70"/><rect x="529.96" y="225.80" width="2.73" height="10.70"/><rect x="533.60" y="225.80" width="2.73" height="10.70"/><rect x="537.23" y="225.80" width="2.73" height="10.70"/><rect x="540.87" y="225.80" width="2.73" height="10.70"/></g>
<g fill="#8f8bca"><rect x="461.30" y="254.00" width="2.70" height="12.60"/><rect x="465.50" y="254.00" width="2.70" height="12.60"/><rect x="469.69" y="254.00" width="2.70" height="12.60"/><rect x="473.88" y="254.00" width="2.70" height="12.60"/><rect x="478.08" y="254.00" width="2.70" height="12.60"/><rect x="482.28" y="254.00" width="2.70" height="12.60"/><rect x="486.47" y="254.00" width="2.70" height="12.60"/><rect x="490.67" y="254.00" width="2.70" height="12.60"/><rect x="494.86" y="254.00" width="2.70" height="12.60"/><rect x="499.06" y="254.00" width="2.70" height="12.60"/><rect x="503.25" y="254.00" width="2.70" height="12.60"/><rect x="507.45" y="254.00" width="2.70" height="12.60"/><rect x="511.64" y="254.00" width="2.70" height="12.60"/><rect x="515.84" y="254.00" width="2.70" height="12.60"/><rect x="520.03" y="254.00" width="2.70" height="12.60"/><rect x="524.23" y="254.00" width="2.70" height="12.60"/><rect x="528.42" y="254.00" width="2.70" height="12.60"/><rect x="532.62" y="254.00" width="2.70" height="12.60"/><rect x="536.81" y="254.00" width="2.70" height="12.60"/><rect x="541.01" y="254.00" width="2.70" height="12.60"/></g>
<g fill="#8f8bca"><rect x="461.30" y="271.50" width="2.70" height="12.60"/><rect x="465.50" y="271.50" width="2.70" height="12.60"/><rect x="469.69" y="271.50" width="2.70" height="12.60"/><rect x="473.88" y="271.50" width="2.70" height="12.60"/><rect x="478.08" y="271.50" width="2.70" height="12.60"/><rect x="482.28" y="271.50" width="2.70" height="12.60"/><rect x="486.47" y="271.50" width="2.70" height="12.60"/><rect x="490.67" y="271.50" width="2.70" height="12.60"/><rect x="494.86" y="271.50" width="2.70" height="12.60"/><rect x="499.06" y="271.50" width="2.70" height="12.60"/><rect x="503.25" y="271.50" width="2.70" height="12.60"/><rect x="507.45" y="271.50" width="2.70" height="12.60"/><rect x="511.64" y="271.50" width="2.70" height="12.60"/><rect x="515.84" y="271.50" width="2.70" height="12.60"/><rect x="520.03" y="271.50" width="2.70" height="12.60"/><rect x="524.23" y="271.50" width="2.70" height="12.60"/><rect x="528.42" y="271.50" width="2.70" height="12.60"/><rect x="532.62" y="271.50" width="2.70" height="12.60"/><rect x="536.81" y="271.50" width="2.70" height="12.60"/><rect x="541.01" y="271.50" width="2.70" height="12.60"/></g>
<g fill="#cc1f1a"><rect x="461.20" y="308.30" width="3.76" height="17.30"/><rect x="466.06" y="308.30" width="3.76" height="17.30"/><rect x="470.91" y="308.30" width="3.76" height="17.30"/><rect x="475.77" y="308.30" width="3.76" height="17.30"/><rect x="480.62" y="308.30" width="3.76" height="17.30"/><rect x="485.48" y="308.30" width="3.76" height="17.30"/><rect x="490.34" y="308.30" width="3.76" height="17.30"/><rect x="495.19" y="308.30" width="3.76" height="17.30"/><rect x="500.05" y="308.30" width="3.76" height="17.30"/><rect x="504.91" y="308.30" width="3.76" height="17.30"/><rect x="509.76" y="308.30" width="3.76" height="17.30"/><rect x="514.62" y="308.30" width="3.76" height="17.30"/><rect x="519.47" y="308.30" width="3.76" height="17.30"/><rect x="524.33" y="308.30" width="3.76" height="17.30"/><rect x="529.19" y="308.30" width="3.76" height="17.30"/><rect x="534.04" y="308.30" width="3.76" height="17.30"/></g>
<g fill="#9c6cb5"><rect x="461.20" y="330.80" width="4.71" height="24.30"/><rect x="467.11" y="330.80" width="4.71" height="24.30"/><rect x="473.02" y="330.80" width="4.71" height="24.30"/><rect x="478.94" y="330.80" width="4.71" height="24.30"/><rect x="484.85" y="330.80" width="4.71" height="24.30"/><rect x="490.76" y="330.80" width="4.71" height="24.30"/><rect x="496.68" y="330.80" width="4.71" height="24.30"/><rect x="502.59" y="330.80" width="4.71" height="24.30"/></g>
<g fill="#f290c0"><rect x="508.30" y="330.80" width="4.94" height="21.20"/><rect x="514.44" y="330.80" width="4.94" height="21.20"/><rect x="520.58" y="330.80" width="4.94" height="21.20"/><rect x="526.72" y="330.80" width="4.94" height="21.20"/><rect x="532.86" y="330.80" width="4.94" height="21.20"/></g>
<g fill="#a6c3d6"><rect x="564.70" y="173.10" width="1.98" height="9.30"/><rect x="567.58" y="173.10" width="1.98" height="9.30"/><rect x="570.46" y="173.10" width="1.98" height="9.30"/><rect x="573.35" y="173.10" width="1.98" height="9.30"/><rect x="576.23" y="173.10" width="1.98" height="9.30"/><rect x="579.11" y="173.10" width="1.98" height="9.30"/><rect x="581.99" y="173.10" width="1.98" height="9.30"/><rect x="584.88" y="173.10" width="1.98" height="9.30"/><rect x="587.76" y="173.10" width="1.98" height="9.30"/><rect x="590.64" y="173.10" width="1.98" height="9.30"/><rect x="593.52" y="173.10" width="1.98" height="9.30"/><rect x="596.40" y="173.10" width="1.98" height="9.30"/><rect x="599.29" y="173.10" width="1.98" height="9.30"/><rect x="602.17" y="173.10" width="1.98" height="9.30"/><rect x="605.05" y="173.10" width="1.98" height="9.30"/><rect x="607.93" y="173.10" width="1.98" height="9.30"/><rect x="610.81" y="173.10" width="1.98" height="9.30"/><rect x="613.70" y="173.10" width="1.98" height="9.30"/><rect x="616.58" y="173.10" width="1.98" height="9.30"/><rect x="619.46" y="173.10" width="1.98" height="9.30"/><rect x="622.34" y="173.10" width="1.98" height="9.30"/><rect x="625.23" y="173.10" width="1.98" height="9.30"/><rect x="628.11" y="173.10" width="1.98" height="9.30"/><rect x="630.99" y="173.10" width="1.98" height="9.30"/><rect x="633.87" y="173.10" width="1.98" height="9.30"/><rect x="636.75" y="173.10" width="1.98" height="9.30"/><rect x="639.64" y="173.10" width="1.98" height="9.30"/><rect x="642.52" y="173.10" width="1.98" height="9.30"/></g>
<g fill="#fcc22c"><rect x="564.70" y="187.30" width="3.25" height="11.90"/><rect x="568.95" y="187.30" width="3.25" height="11.90"/><rect x="573.21" y="187.30" width="3.25" height="11.90"/><rect x="577.46" y="187.30" width="3.25" height="11.90"/><rect x="581.71" y="187.30" width="3.25" height="11.90"/><rect x="585.96" y="187.30" width="3.25" height="11.90"/><rect x="590.22" y="187.30" width="3.25" height="11.90"/><rect x="594.47" y="187.30" width="3.25" height="11.90"/><rect x="598.72" y="187.30" width="3.25" height="11.90"/><rect x="602.97" y="187.30" width="3.25" height="11.90"/><rect x="607.23" y="187.30" width="3.25" height="11.90"/><rect x="611.48" y="187.30" width="3.25" height="11.90"/><rect x="615.73" y="187.30" width="3.25" height="11.90"/><rect x="619.98" y="187.30" width="3.25" height="11.90"/><rect x="624.24" y="187.30" width="3.25" height="11.90"/><rect x="628.49" y="187.30" width="3.25" height="11.90"/><rect x="632.74" y="187.30" width="3.25" height="11.90"/><rect x="636.99" y="187.30" width="3.25" height="11.90"/><rect x="641.25" y="187.30" width="3.25" height="11.90"/></g>
<g fill="#fcc22c"><rect x="568.80" y="223.50" width="3.26" height="13.40"/><rect x="573.06" y="223.50" width="3.26" height="13.40"/><rect x="577.32" y="223.50" width="3.26" height="13.40"/><rect x="581.58" y="223.50" width="3.26" height="13.40"/><rect x="585.84" y="223.50" width="3.26" height="13.40"/><rect x="590.11" y="223.50" width="3.26" height="13.40"/><rect x="594.37" y="223.50" width="3.26" height="13.40"/><rect x="598.63" y="223.50" width="3.26" height="13.40"/><rect x="602.89" y="223.50" width="3.26" height="13.40"/><rect x="607.15" y="223.50" width="3.26" height="13.40"/><rect x="611.41" y="223.50" width="3.26" height="13.40"/><rect x="615.67" y="223.50" width="3.26" height="13.40"/><rect x="619.93" y="223.50" width="3.26" height="13.40"/><rect x="624.19" y="223.50" width="3.26" height="13.40"/><rect x="628.46" y="223.50" width="3.26" height="13.40"/><rect x="632.72" y="223.50" width="3.26" height="13.40"/><rect x="636.98" y="223.50" width="3.26" height="13.40"/><rect x="641.24" y="223.50" width="3.26" height="13.40"/></g>
<g fill="#cc1f1a"><rect x="567.00" y="242.00" width="3.81" height="16.50"/><rect x="571.91" y="242.00" width="3.81" height="16.50"/><rect x="576.83" y="242.00" width="3.81" height="16.50"/><rect x="581.74" y="242.00" width="3.81" height="16.50"/><rect x="586.65" y="242.00" width="3.81" height="16.50"/><rect x="591.56" y="242.00" width="3.81" height="16.50"/><rect x="596.48" y="242.00" width="3.81" height="16.50"/><rect x="601.39" y="242.00" width="3.81" height="16.50"/><rect x="606.30" y="242.00" width="3.81" height="16.50"/><rect x="611.21" y="242.00" width="3.81" height="16.50"/><rect x="616.12" y="242.00" width="3.81" height="16.50"/><rect x="621.04" y="242.00" width="3.81" height="16.50"/><rect x="625.95" y="242.00" width="3.81" height="16.50"/><rect x="630.86" y="242.00" width="3.81" height="16.50"/><rect x="635.77" y="242.00" width="3.81" height="16.50"/><rect x="640.69" y="242.00" width="3.81" height="16.50"/></g>
<g fill="#13819f"><rect x="566.00" y="288.00" width="4.17" height="16.00"/><rect x="571.27" y="288.00" width="4.17" height="16.00"/><rect x="576.55" y="288.00" width="4.17" height="16.00"/><rect x="581.82" y="288.00" width="4.17" height="16.00"/><rect x="587.09" y="288.00" width="4.17" height="16.00"/><rect x="592.37" y="288.00" width="4.17" height="16.00"/><rect x="597.64" y="288.00" width="4.17" height="16.00"/><rect x="602.91" y="288.00" width="4.17" height="16.00"/><rect x="608.19" y="288.00" width="4.17" height="16.00"/><rect x="613.46" y="288.00" width="4.17" height="16.00"/><rect x="618.73" y="288.00" width="4.17" height="16.00"/><rect x="624.01" y="288.00" width="4.17" height="16.00"/><rect x="629.28" y="288.00" width="4.17" height="16.00"/><rect x="634.55" y="288.00" width="4.17" height="16.00"/><rect x="639.83" y="288.00" width="4.17" height="16.00"/></g>
<g fill="#f290c0"><rect x="566.00" y="309.20" width="4.80" height="23.60"/><rect x="572.10" y="309.20" width="4.80" height="23.60"/><rect x="578.20" y="309.20" width="4.80" height="23.60"/><rect x="584.30" y="309.20" width="4.80" height="23.60"/><rect x="590.40" y="309.20" width="4.80" height="23.60"/><rect x="596.50" y="309.20" width="4.80" height="23.60"/><rect x="602.60" y="309.20" width="4.80" height="23.60"/><rect x="608.70" y="309.20" width="4.80" height="23.60"/><rect x="614.80" y="309.20" width="4.80" height="23.60"/><rect x="620.90" y="309.20" width="4.80" height="23.60"/><rect x="627.00" y="309.20" width="4.80" height="23.60"/><rect x="633.10" y="309.20" width="4.80" height="23.60"/><rect x="639.20" y="309.20" width="4.80" height="23.60"/></g>
<g fill="#e63a2c"><rect x="653.40" y="167.50" width="2.20" height="9.50"/><rect x="656.50" y="167.50" width="2.20" height="9.50"/><rect x="659.60" y="167.50" width="2.20" height="9.50"/><rect x="662.70" y="167.50" width="2.20" height="9.50"/><rect x="665.80" y="167.50" width="2.20" height="9.50"/><rect x="668.90" y="167.50" width="2.20" height="9.50"/><rect x="672.00" y="167.50" width="2.20" height="9.50"/><rect x="675.10" y="167.50" width="2.20" height="9.50"/><rect x="678.20" y="167.50" width="2.20" height="9.50"/><rect x="681.30" y="167.50" width="2.20" height="9.50"/><rect x="684.40" y="167.50" width="2.20" height="9.50"/><rect x="687.50" y="167.50" width="2.20" height="9.50"/><rect x="690.60" y="167.50" width="2.20" height="9.50"/><rect x="693.70" y="167.50" width="2.20" height="9.50"/><rect x="696.80" y="167.50" width="2.20" height="9.50"/><rect x="699.90" y="167.50" width="2.20" height="9.50"/><rect x="703.00" y="167.50" width="2.20" height="9.50"/><rect x="706.10" y="167.50" width="2.20" height="9.50"/><rect x="709.20" y="167.50" width="2.20" height="9.50"/><rect x="712.30" y="167.50" width="2.20" height="9.50"/><rect x="715.40" y="167.50" width="2.20" height="9.50"/><rect x="718.50" y="167.50" width="2.20" height="9.50"/><rect x="721.60" y="167.50" width="2.20" height="9.50"/><rect x="724.70" y="167.50" width="2.20" height="9.50"/></g>
<g fill="#8fc6ec"><rect x="653.40" y="181.50" width="2.64" height="9.30"/><rect x="656.94" y="181.50" width="2.64" height="9.30"/><rect x="660.49" y="181.50" width="2.64" height="9.30"/><rect x="664.03" y="181.50" width="2.64" height="9.30"/><rect x="667.57" y="181.50" width="2.64" height="9.30"/><rect x="671.11" y="181.50" width="2.64" height="9.30"/><rect x="674.66" y="181.50" width="2.64" height="9.30"/><rect x="678.20" y="181.50" width="2.64" height="9.30"/><rect x="681.74" y="181.50" width="2.64" height="9.30"/><rect x="685.29" y="181.50" width="2.64" height="9.30"/><rect x="688.83" y="181.50" width="2.64" height="9.30"/><rect x="692.37" y="181.50" width="2.64" height="9.30"/><rect x="695.91" y="181.50" width="2.64" height="9.30"/><rect x="699.46" y="181.50" width="2.64" height="9.30"/><rect x="703.00" y="181.50" width="2.64" height="9.30"/><rect x="706.54" y="181.50" width="2.64" height="9.30"/><rect x="710.09" y="181.50" width="2.64" height="9.30"/><rect x="713.63" y="181.50" width="2.64" height="9.30"/><rect x="717.17" y="181.50" width="2.64" height="9.30"/><rect x="720.71" y="181.50" width="2.64" height="9.30"/><rect x="724.26" y="181.50" width="2.64" height="9.30"/></g>
<g fill="#8fc6ec"><rect x="653.40" y="204.80" width="2.64" height="9.00"/><rect x="656.94" y="204.80" width="2.64" height="9.00"/><rect x="660.49" y="204.80" width="2.64" height="9.00"/><rect x="664.03" y="204.80" width="2.64" height="9.00"/><rect x="667.57" y="204.80" width="2.64" height="9.00"/><rect x="671.11" y="204.80" width="2.64" height="9.00"/><rect x="674.66" y="204.80" width="2.64" height="9.00"/><rect x="678.20" y="204.80" width="2.64" height="9.00"/><rect x="681.74" y="204.80" width="2.64" height="9.00"/><rect x="685.29" y="204.80" width="2.64" height="9.00"/><rect x="688.83" y="204.80" width="2.64" height="9.00"/><rect x="692.37" y="204.80" width="2.64" height="9.00"/><rect x="695.91" y="204.80" width="2.64" height="9.00"/><rect x="699.46" y="204.80" width="2.64" height="9.00"/><rect x="703.00" y="204.80" width="2.64" height="9.00"/><rect x="706.54" y="204.80" width="2.64" height="9.00"/><rect x="710.09" y="204.80" width="2.64" height="9.00"/><rect x="713.63" y="204.80" width="2.64" height="9.00"/><rect x="717.17" y="204.80" width="2.64" height="9.00"/><rect x="720.71" y="204.80" width="2.64" height="9.00"/><rect x="724.26" y="204.80" width="2.64" height="9.00"/></g>
<g fill="#8f8bca"><rect x="653.40" y="219.10" width="2.83" height="11.70"/><rect x="657.33" y="219.10" width="2.83" height="11.70"/><rect x="661.25" y="219.10" width="2.83" height="11.70"/><rect x="665.18" y="219.10" width="2.83" height="11.70"/><rect x="669.11" y="219.10" width="2.83" height="11.70"/><rect x="673.03" y="219.10" width="2.83" height="11.70"/><rect x="676.96" y="219.10" width="2.83" height="11.70"/><rect x="680.88" y="219.10" width="2.83" height="11.70"/><rect x="684.81" y="219.10" width="2.83" height="11.70"/><rect x="688.74" y="219.10" width="2.83" height="11.70"/><rect x="692.66" y="219.10" width="2.83" height="11.70"/><rect x="696.59" y="219.10" width="2.83" height="11.70"/><rect x="700.52" y="219.10" width="2.83" height="11.70"/><rect x="704.44" y="219.10" width="2.83" height="11.70"/><rect x="708.37" y="219.10" width="2.83" height="11.70"/><rect x="712.29" y="219.10" width="2.83" height="11.70"/><rect x="716.22" y="219.10" width="2.83" height="11.70"/><rect x="720.15" y="219.10" width="2.83" height="11.70"/><rect x="724.07" y="219.10" width="2.83" height="11.70"/></g>
<g fill="#8f8bca"><rect x="653.40" y="250.50" width="2.96" height="12.10"/><rect x="657.56" y="250.50" width="2.96" height="12.10"/><rect x="661.72" y="250.50" width="2.96" height="12.10"/><rect x="665.88" y="250.50" width="2.96" height="12.10"/><rect x="670.04" y="250.50" width="2.96" height="12.10"/><rect x="674.21" y="250.50" width="2.96" height="12.10"/><rect x="678.37" y="250.50" width="2.96" height="12.10"/><rect x="682.53" y="250.50" width="2.96" height="12.10"/><rect x="686.69" y="250.50" width="2.96" height="12.10"/><rect x="690.85" y="250.50" width="2.96" height="12.10"/><rect x="695.01" y="250.50" width="2.96" height="12.10"/><rect x="699.17" y="250.50" width="2.96" height="12.10"/><rect x="703.33" y="250.50" width="2.96" height="12.10"/><rect x="707.49" y="250.50" width="2.96" height="12.10"/><rect x="711.66" y="250.50" width="2.96" height="12.10"/><rect x="715.82" y="250.50" width="2.96" height="12.10"/><rect x="719.98" y="250.50" width="2.96" height="12.10"/><rect x="724.14" y="250.50" width="2.96" height="12.10"/></g>
<g fill="#f39236"><rect x="653.40" y="267.20" width="2.64" height="10.10"/><rect x="657.14" y="267.20" width="2.64" height="10.10"/><rect x="660.88" y="267.20" width="2.64" height="10.10"/><rect x="664.62" y="267.20" width="2.64" height="10.10"/><rect x="668.36" y="267.20" width="2.64" height="10.10"/><rect x="672.10" y="267.20" width="2.64" height="10.10"/><rect x="675.84" y="267.20" width="2.64" height="10.10"/><rect x="679.58" y="267.20" width="2.64" height="10.10"/><rect x="683.32" y="267.20" width="2.64" height="10.10"/><rect x="687.06" y="267.20" width="2.64" height="10.10"/><rect x="690.80" y="267.20" width="2.64" height="10.10"/><rect x="694.54" y="267.20" width="2.64" height="10.10"/><rect x="698.28" y="267.20" width="2.64" height="10.10"/><rect x="702.02" y="267.20" width="2.64" height="10.10"/><rect x="705.76" y="267.20" width="2.64" height="10.10"/><rect x="709.50" y="267.20" width="2.64" height="10.10"/><rect x="713.24" y="267.20" width="2.64" height="10.10"/><rect x="716.98" y="267.20" width="2.64" height="10.10"/><rect x="720.72" y="267.20" width="2.64" height="10.10"/><rect x="724.46" y="267.20" width="2.64" height="10.10"/></g>
<g fill="#f39236"><rect x="652.80" y="295.00" width="2.65" height="9.80"/><rect x="656.45" y="295.00" width="2.65" height="9.80"/><rect x="660.09" y="295.00" width="2.65" height="9.80"/><rect x="663.74" y="295.00" width="2.65" height="9.80"/><rect x="667.39" y="295.00" width="2.65" height="9.80"/><rect x="671.03" y="295.00" width="2.65" height="9.80"/><rect x="674.68" y="295.00" width="2.65" height="9.80"/><rect x="678.33" y="295.00" width="2.65" height="9.80"/><rect x="681.97" y="295.00" width="2.65" height="9.80"/><rect x="685.62" y="295.00" width="2.65" height="9.80"/><rect x="689.27" y="295.00" width="2.65" height="9.80"/><rect x="692.91" y="295.00" width="2.65" height="9.80"/><rect x="696.56" y="295.00" width="2.65" height="9.80"/><rect x="700.21" y="295.00" width="2.65" height="9.80"/><rect x="703.85" y="295.00" width="2.65" height="9.80"/></g>
<g fill="#fcc22c"><rect x="652.80" y="309.00" width="3.47" height="14.00"/><rect x="657.37" y="309.00" width="3.47" height="14.00"/><rect x="661.93" y="309.00" width="3.47" height="14.00"/><rect x="666.50" y="309.00" width="3.47" height="14.00"/><rect x="671.07" y="309.00" width="3.47" height="14.00"/><rect x="675.63" y="309.00" width="3.47" height="14.00"/><rect x="680.20" y="309.00" width="3.47" height="14.00"/><rect x="684.77" y="309.00" width="3.47" height="14.00"/><rect x="689.33" y="309.00" width="3.47" height="14.00"/><rect x="693.90" y="309.00" width="3.47" height="14.00"/><rect x="698.47" y="309.00" width="3.47" height="14.00"/><rect x="703.03" y="309.00" width="3.47" height="14.00"/></g>
<g fill="#f0989b"><rect x="742.20" y="164.80" width="2.10" height="7.70"/><rect x="745.20" y="164.80" width="2.10" height="7.70"/><rect x="748.19" y="164.80" width="2.10" height="7.70"/><rect x="751.19" y="164.80" width="2.10" height="7.70"/><rect x="754.18" y="164.80" width="2.10" height="7.70"/><rect x="757.18" y="164.80" width="2.10" height="7.70"/><rect x="760.18" y="164.80" width="2.10" height="7.70"/><rect x="763.17" y="164.80" width="2.10" height="7.70"/><rect x="766.17" y="164.80" width="2.10" height="7.70"/><rect x="769.16" y="164.80" width="2.10" height="7.70"/><rect x="772.16" y="164.80" width="2.10" height="7.70"/><rect x="775.16" y="164.80" width="2.10" height="7.70"/><rect x="778.15" y="164.80" width="2.10" height="7.70"/><rect x="781.15" y="164.80" width="2.10" height="7.70"/><rect x="784.14" y="164.80" width="2.10" height="7.70"/><rect x="787.14" y="164.80" width="2.10" height="7.70"/><rect x="790.14" y="164.80" width="2.10" height="7.70"/><rect x="793.13" y="164.80" width="2.10" height="7.70"/><rect x="796.13" y="164.80" width="2.10" height="7.70"/><rect x="799.12" y="164.80" width="2.10" height="7.70"/><rect x="802.12" y="164.80" width="2.10" height="7.70"/><rect x="805.12" y="164.80" width="2.10" height="7.70"/><rect x="808.11" y="164.80" width="2.10" height="7.70"/><rect x="811.11" y="164.80" width="2.10" height="7.70"/><rect x="814.10" y="164.80" width="2.10" height="7.70"/></g>
<g fill="#f0989b"><rect x="742.20" y="176.80" width="2.10" height="8.10"/><rect x="745.20" y="176.80" width="2.10" height="8.10"/><rect x="748.19" y="176.80" width="2.10" height="8.10"/><rect x="751.19" y="176.80" width="2.10" height="8.10"/><rect x="754.18" y="176.80" width="2.10" height="8.10"/><rect x="757.18" y="176.80" width="2.10" height="8.10"/><rect x="760.18" y="176.80" width="2.10" height="8.10"/><rect x="763.17" y="176.80" width="2.10" height="8.10"/><rect x="766.17" y="176.80" width="2.10" height="8.10"/><rect x="769.16" y="176.80" width="2.10" height="8.10"/><rect x="772.16" y="176.80" width="2.10" height="8.10"/><rect x="775.16" y="176.80" width="2.10" height="8.10"/><rect x="778.15" y="176.80" width="2.10" height="8.10"/><rect x="781.15" y="176.80" width="2.10" height="8.10"/><rect x="784.14" y="176.80" width="2.10" height="8.10"/><rect x="787.14" y="176.80" width="2.10" height="8.10"/><rect x="790.14" y="176.80" width="2.10" height="8.10"/><rect x="793.13" y="176.80" width="2.10" height="8.10"/><rect x="796.13" y="176.80" width="2.10" height="8.10"/><rect x="799.12" y="176.80" width="2.10" height="8.10"/><rect x="802.12" y="176.80" width="2.10" height="8.10"/><rect x="805.12" y="176.80" width="2.10" height="8.10"/><rect x="808.11" y="176.80" width="2.10" height="8.10"/><rect x="811.11" y="176.80" width="2.10" height="8.10"/><rect x="814.10" y="176.80" width="2.10" height="8.10"/></g>
<g fill="#e63a2c"><rect x="742.20" y="199.40" width="2.10" height="6.70"/><rect x="745.20" y="199.40" width="2.10" height="6.70"/><rect x="748.19" y="199.40" width="2.10" height="6.70"/><rect x="751.19" y="199.40" width="2.10" height="6.70"/><rect x="754.18" y="199.40" width="2.10" height="6.70"/><rect x="757.18" y="199.40" width="2.10" height="6.70"/><rect x="760.18" y="199.40" width="2.10" height="6.70"/><rect x="763.17" y="199.40" width="2.10" height="6.70"/><rect x="766.17" y="199.40" width="2.10" height="6.70"/><rect x="769.16" y="199.40" width="2.10" height="6.70"/><rect x="772.16" y="199.40" width="2.10" height="6.70"/><rect x="775.16" y="199.40" width="2.10" height="6.70"/><rect x="778.15" y="199.40" width="2.10" height="6.70"/><rect x="781.15" y="199.40" width="2.10" height="6.70"/><rect x="784.14" y="199.40" width="2.10" height="6.70"/><rect x="787.14" y="199.40" width="2.10" height="6.70"/><rect x="790.14" y="199.40" width="2.10" height="6.70"/><rect x="793.13" y="199.40" width="2.10" height="6.70"/><rect x="796.13" y="199.40" width="2.10" height="6.70"/><rect x="799.12" y="199.40" width="2.10" height="6.70"/><rect x="802.12" y="199.40" width="2.10" height="6.70"/><rect x="805.12" y="199.40" width="2.10" height="6.70"/><rect x="808.11" y="199.40" width="2.10" height="6.70"/><rect x="811.11" y="199.40" width="2.10" height="6.70"/><rect x="814.10" y="199.40" width="2.10" height="6.70"/></g>
<g fill="#e63a2c"><rect x="742.20" y="210.60" width="2.10" height="6.80"/><rect x="745.20" y="210.60" width="2.10" height="6.80"/><rect x="748.19" y="210.60" width="2.10" height="6.80"/><rect x="751.19" y="210.60" width="2.10" height="6.80"/><rect x="754.18" y="210.60" width="2.10" height="6.80"/><rect x="757.18" y="210.60" width="2.10" height="6.80"/><rect x="760.18" y="210.60" width="2.10" height="6.80"/><rect x="763.17" y="210.60" width="2.10" height="6.80"/><rect x="766.17" y="210.60" width="2.10" height="6.80"/><rect x="769.16" y="210.60" width="2.10" height="6.80"/><rect x="772.16" y="210.60" width="2.10" height="6.80"/><rect x="775.16" y="210.60" width="2.10" height="6.80"/><rect x="778.15" y="210.60" width="2.10" height="6.80"/><rect x="781.15" y="210.60" width="2.10" height="6.80"/><rect x="784.14" y="210.60" width="2.10" height="6.80"/><rect x="787.14" y="210.60" width="2.10" height="6.80"/><rect x="790.14" y="210.60" width="2.10" height="6.80"/><rect x="793.13" y="210.60" width="2.10" height="6.80"/><rect x="796.13" y="210.60" width="2.10" height="6.80"/><rect x="799.12" y="210.60" width="2.10" height="6.80"/><rect x="802.12" y="210.60" width="2.10" height="6.80"/><rect x="805.12" y="210.60" width="2.10" height="6.80"/><rect x="808.11" y="210.60" width="2.10" height="6.80"/><rect x="811.11" y="210.60" width="2.10" height="6.80"/><rect x="814.10" y="210.60" width="2.10" height="6.80"/></g>
<g fill="#f0989b"><rect x="742.20" y="232.20" width="2.57" height="7.80"/><rect x="745.77" y="232.20" width="2.57" height="7.80"/><rect x="749.34" y="232.20" width="2.57" height="7.80"/><rect x="752.91" y="232.20" width="2.57" height="7.80"/><rect x="756.49" y="232.20" width="2.57" height="7.80"/><rect x="760.06" y="232.20" width="2.57" height="7.80"/><rect x="763.63" y="232.20" width="2.57" height="7.80"/><rect x="767.20" y="232.20" width="2.57" height="7.80"/><rect x="770.77" y="232.20" width="2.57" height="7.80"/><rect x="774.34" y="232.20" width="2.57" height="7.80"/><rect x="777.91" y="232.20" width="2.57" height="7.80"/><rect x="781.49" y="232.20" width="2.57" height="7.80"/><rect x="785.06" y="232.20" width="2.57" height="7.80"/><rect x="788.63" y="232.20" width="2.57" height="7.80"/><rect x="792.20" y="232.20" width="2.57" height="7.80"/><rect x="795.77" y="232.20" width="2.57" height="7.80"/><rect x="799.34" y="232.20" width="2.57" height="7.80"/><rect x="802.91" y="232.20" width="2.57" height="7.80"/><rect x="806.49" y="232.20" width="2.57" height="7.80"/><rect x="810.06" y="232.20" width="2.57" height="7.80"/><rect x="813.63" y="232.20" width="2.57" height="7.80"/></g>
<g fill="#f0989b"><rect x="742.20" y="245.00" width="2.57" height="8.30"/><rect x="745.77" y="245.00" width="2.57" height="8.30"/><rect x="749.34" y="245.00" width="2.57" height="8.30"/><rect x="752.91" y="245.00" width="2.57" height="8.30"/><rect x="756.49" y="245.00" width="2.57" height="8.30"/><rect x="760.06" y="245.00" width="2.57" height="8.30"/><rect x="763.63" y="245.00" width="2.57" height="8.30"/><rect x="767.20" y="245.00" width="2.57" height="8.30"/><rect x="770.77" y="245.00" width="2.57" height="8.30"/><rect x="774.34" y="245.00" width="2.57" height="8.30"/><rect x="777.91" y="245.00" width="2.57" height="8.30"/><rect x="781.49" y="245.00" width="2.57" height="8.30"/><rect x="785.06" y="245.00" width="2.57" height="8.30"/><rect x="788.63" y="245.00" width="2.57" height="8.30"/><rect x="792.20" y="245.00" width="2.57" height="8.30"/><rect x="795.77" y="245.00" width="2.57" height="8.30"/><rect x="799.34" y="245.00" width="2.57" height="8.30"/><rect x="802.91" y="245.00" width="2.57" height="8.30"/><rect x="806.49" y="245.00" width="2.57" height="8.30"/><rect x="810.06" y="245.00" width="2.57" height="8.30"/><rect x="813.63" y="245.00" width="2.57" height="8.30"/></g>
<g fill="#a6c3d6"><rect x="748.70" y="270.70" width="2.26" height="7.10"/><rect x="751.86" y="270.70" width="2.26" height="7.10"/><rect x="755.02" y="270.70" width="2.26" height="7.10"/><rect x="758.18" y="270.70" width="2.26" height="7.10"/><rect x="761.34" y="270.70" width="2.26" height="7.10"/><rect x="764.50" y="270.70" width="2.26" height="7.10"/><rect x="767.65" y="270.70" width="2.26" height="7.10"/><rect x="770.81" y="270.70" width="2.26" height="7.10"/><rect x="773.97" y="270.70" width="2.26" height="7.10"/><rect x="777.13" y="270.70" width="2.26" height="7.10"/><rect x="780.29" y="270.70" width="2.26" height="7.10"/><rect x="783.45" y="270.70" width="2.26" height="7.10"/><rect x="786.61" y="270.70" width="2.26" height="7.10"/><rect x="789.77" y="270.70" width="2.26" height="7.10"/><rect x="792.93" y="270.70" width="2.26" height="7.10"/><rect x="796.09" y="270.70" width="2.26" height="7.10"/><rect x="799.25" y="270.70" width="2.26" height="7.10"/><rect x="802.40" y="270.70" width="2.26" height="7.10"/><rect x="805.56" y="270.70" width="2.26" height="7.10"/><rect x="808.72" y="270.70" width="2.26" height="7.10"/><rect x="811.88" y="270.70" width="2.26" height="7.10"/><rect x="815.04" y="270.70" width="2.26" height="7.10"/></g>
<g fill="#9c6cb5"><rect x="204.80" y="179.00" width="25.00" height="5.39"/><rect x="204.80" y="185.59" width="25.00" height="5.39"/><rect x="204.80" y="192.18" width="25.00" height="5.39"/><rect x="204.80" y="198.76" width="25.00" height="5.39"/><rect x="204.80" y="205.35" width="25.00" height="5.39"/><rect x="204.80" y="211.94" width="25.00" height="5.39"/><rect x="204.80" y="218.53" width="25.00" height="5.39"/><rect x="204.80" y="225.11" width="25.00" height="5.39"/></g>
<g fill="#2d2676"><rect x="201.20" y="231.50" width="28.60" height="5.26"/><rect x="201.20" y="237.96" width="28.60" height="5.26"/><rect x="201.20" y="244.43" width="28.60" height="5.26"/><rect x="201.20" y="250.89" width="28.60" height="5.26"/><rect x="201.20" y="257.35" width="28.60" height="5.26"/><rect x="201.20" y="263.81" width="28.60" height="5.26"/><rect x="201.20" y="270.27" width="28.60" height="5.26"/><rect x="201.20" y="276.74" width="28.60" height="5.26"/></g>
<g fill="#e3e02b"><rect x="189.80" y="283.50" width="40.00" height="7.67"/><rect x="189.80" y="292.37" width="40.00" height="7.67"/><rect x="189.80" y="301.23" width="40.00" height="7.67"/></g>
<g fill="#e6007e"><rect x="181.20" y="310.60" width="49.10" height="8.60"/><rect x="181.20" y="320.40" width="49.10" height="8.60"/><rect x="181.20" y="330.20" width="49.10" height="8.60"/></g>
<text x="301.5" y="204.00" font-size="16" fill="#22609f" stroke="#22609f" stroke-width="0.3" text-anchor="middle">A</text>
<text x="303.4" y="314.40" font-size="16" fill="#22609f" stroke="#22609f" stroke-width="0.3" text-anchor="middle">C</text>
<text x="409.3" y="204.30" font-size="16" fill="#22609f" stroke="#22609f" stroke-width="0.3" text-anchor="middle">D</text>
<text x="409.2" y="266.80" font-size="16" fill="#22609f" stroke="#22609f" stroke-width="0.3" text-anchor="middle">E</text>
<text x="410.2" y="335.00" font-size="16" fill="#22609f" stroke="#22609f" stroke-width="0.3" text-anchor="middle">F</text>
<text x="500.8" y="187.70" font-size="16" fill="#22609f" stroke="#22609f" stroke-width="0.3" text-anchor="middle">G</text>
<text x="500.4" y="231.00" font-size="16" fill="#22609f" stroke="#22609f" stroke-width="0.3" text-anchor="middle">H</text>
<text x="500.4" y="275.30" font-size="16" fill="#22609f" stroke="#22609f" stroke-width="0.3" text-anchor="middle">I</text>
<text x="501.4" y="334.00" font-size="16" fill="#22609f" stroke="#22609f" stroke-width="0.3" text-anchor="middle">J</text>
<text x="604.7" y="191.20" font-size="16" fill="#22609f" stroke="#22609f" stroke-width="0.3" text-anchor="middle">K</text>
<text x="605" y="244.30" font-size="16" fill="#22609f" stroke="#22609f" stroke-width="0.3" text-anchor="middle">L</text>
<text x="604.2" y="313.20" font-size="16" fill="#22609f" stroke="#22609f" stroke-width="0.3" text-anchor="middle">M</text>
<text x="691.1" y="185.80" font-size="16" fill="#22609f" stroke="#22609f" stroke-width="0.3" text-anchor="middle">N</text>
<text x="690.8" y="222.30" font-size="16" fill="#22609f" stroke="#22609f" stroke-width="0.3" text-anchor="middle">O</text>
<text x="690.8" y="272.30" font-size="16" fill="#22609f" stroke="#22609f" stroke-width="0.3" text-anchor="middle">P</text>
<text x="679.5" y="313.90" font-size="16" fill="#22609f" stroke="#22609f" stroke-width="0.3" text-anchor="middle">Q</text>
<text x="781" y="181.80" font-size="16" fill="#22609f" stroke="#22609f" stroke-width="0.3" text-anchor="middle">R</text>
<text x="781" y="214.70" font-size="16" fill="#22609f" stroke="#22609f" stroke-width="0.3" text-anchor="middle">S</text>
<text x="780.8" y="248.70" font-size="16" fill="#22609f" stroke="#22609f" stroke-width="0.3" text-anchor="middle">T</text>
<text x="781.3" y="280.90" font-size="16" fill="#22609f" stroke="#22609f" stroke-width="0.3" text-anchor="middle">U</text>
<g fill="#fff"><rect x="279.3" y="134.9" width="1.2" height="2.6"/><rect x="298.5" y="134.9" width="1.2" height="2.6"/><rect x="470.8" y="135.0" width="1.2" height="2.6"/><rect x="489.4" y="135.0" width="1.2" height="2.6"/><rect x="508.0" y="135.0" width="1.2" height="2.6"/><rect x="826" y="219" width="3" height="1.1"/></g>
<path d="M807 309L822.8 297.2" stroke="#fff" stroke-width="4" stroke-linecap="round"/>
<circle cx="270.2" cy="136.2" r="7.9" fill="#9c9c9c"/>
<g transform="translate(270.2,136.2)" fill="#fff" stroke="none"><rect x="-3.9" y="-4.9" width="7.8" height="1.2"/><path d="M-3.4 -3.8H3.4L2.6 4.8H-2.6Z"/><circle cx="0" cy="0.3" r="1.35" fill="none" stroke="#9c9c9c" stroke-width="0.8"/></g>
<circle cx="289.7" cy="136.2" r="7.9" fill="#9c9c9c"/>
<g transform="translate(289.7,136.2)" fill="#fff" stroke="none"><path d="M0 -6L-1.6 -2.9H1.6Z" fill="none" stroke="#fff" stroke-width="0.75"/><rect x="-1.2" y="-2.2" width="2.4" height="2.6"/><rect x="-3.4" y="0.9" width="6.8" height="5"/></g>
<circle cx="308.5" cy="136.2" r="7.9" fill="#9c9c9c"/>
<g transform="translate(308.5,136.2)" fill="#fff" stroke="none"><circle cx="-3.2" cy="-4.3" r="1.35"/><circle cx="3.3" cy="-4.3" r="1.35"/><path d="M-5.3 -2.6H-1.1V2.2H-1.9V5.6H-4.5V2.2H-5.3Z"/><path d="M1.6 -2.6H5L6 2.3H5V5.6H2.2V2.3H0.8Z"/><rect x="-0.2" y="-5.4" width="0.45" height="10.8" fill="#d0d0d0"/></g>
<circle cx="389.4" cy="126.2" r="8.4" fill="#9c9c9c"/>
<g transform="translate(389.4,126.2)" fill="#fff" stroke="none"><text x="0" y="5" font-size="14.5" font-weight="bold" fill="#fff" text-anchor="middle">P</text></g>
<circle cx="462.3" cy="136.3" r="7.9" fill="#9c9c9c"/>
<g transform="translate(462.3,136.3)" fill="#fff" stroke="none"><rect x="-3.9" y="-4.9" width="7.8" height="1.2"/><path d="M-3.4 -3.8H3.4L2.6 4.8H-2.6Z"/><circle cx="0" cy="0.3" r="1.35" fill="none" stroke="#9c9c9c" stroke-width="0.8"/></g>
<circle cx="480.6" cy="136.3" r="7.9" fill="#9c9c9c"/>
<g transform="translate(480.6,136.3)" fill="#fff" stroke="none"><path d="M-3.3 -5.5h0.55v2.8h0.5v-2.8h0.5v2.8h0.5v-2.8h0.55v3.9a1 1 0 0 1 -0.9 1v5.8h-1.3v-5.8a1 1 0 0 1 -0.9 -1z"/><path d="M1.4 -5.5c1.9 0 1.9 4 1.4 5.6h-0.1v5.6h-1.3z"/></g>
<circle cx="499.4" cy="136.3" r="7.9" fill="#9c9c9c"/>
<g transform="translate(499.4,136.3)" fill="#fff" stroke="none"><path d="M0 -6L-1.6 -2.9H1.6Z" fill="none" stroke="#fff" stroke-width="0.75"/><rect x="-1.2" y="-2.2" width="2.4" height="2.6"/><rect x="-3.4" y="0.9" width="6.8" height="5"/></g>
<circle cx="517.8" cy="136.3" r="7.9" fill="#9c9c9c"/>
<g transform="translate(517.8,136.3)" fill="#fff" stroke="none"><circle cx="-3.2" cy="-4.3" r="1.35"/><circle cx="3.3" cy="-4.3" r="1.35"/><path d="M-5.3 -2.6H-1.1V2.2H-1.9V5.6H-4.5V2.2H-5.3Z"/><path d="M1.6 -2.6H5L6 2.3H5V5.6H2.2V2.3H0.8Z"/><rect x="-0.2" y="-5.4" width="0.45" height="10.8" fill="#d0d0d0"/></g>
<circle cx="639.7" cy="127" r="7.9" fill="#9c9c9c"/>
<g transform="translate(639.7,127)" fill="#fff" stroke="none"><g opacity="0.6"><circle cx="-2.7" cy="1.3" r="2.1" fill="none" stroke="#fff" stroke-width="0.7"/><circle cx="2.7" cy="1.3" r="2.1" fill="none" stroke="#fff" stroke-width="0.7"/><path d="M-2.7 1.3l1.6 -3h3l-1 3h-2.2M-1.1 -1.7l-0.4 -1h1.2M1.9 -1.7l0.8 3" fill="none" stroke="#fff" stroke-width="0.7"/></g></g>
<circle cx="706.8" cy="120.7" r="7.9" fill="#9c9c9c"/>
<g transform="translate(706.8,120.7)" fill="#fff" stroke="none"><text x="0.3" y="4.8" font-size="14" font-weight="bold" font-style="italic" font-family="Liberation Serif" fill="#fff" text-anchor="middle">i</text></g>
<circle cx="813.1" cy="135.5" r="8.4" fill="#9c9c9c"/>
<g transform="translate(813.1,135.5)" fill="#fff" stroke="none"><text x="0" y="5" font-size="14.5" font-weight="bold" fill="#fff" text-anchor="middle">P</text></g>
<circle cx="252.2" cy="178.6" r="7.9" fill="#9c9c9c"/>
<g transform="translate(252.2,178.6)" fill="#fff" stroke="none"><circle cx="-3.2" cy="-4.3" r="1.35"/><circle cx="3.3" cy="-4.3" r="1.35"/><path d="M-5.3 -2.6H-1.1V2.2H-1.9V5.6H-4.5V2.2H-5.3Z"/><path d="M1.6 -2.6H5L6 2.3H5V5.6H2.2V2.3H0.8Z"/><rect x="-0.2" y="-5.4" width="0.45" height="10.8" fill="#d0d0d0"/></g>
<circle cx="252.4" cy="197.6" r="7.9" fill="#9c9c9c"/>
<g transform="translate(252.4,197.6)" fill="#fff" stroke="none"><path d="M0 -6L-1.6 -2.9H1.6Z" fill="none" stroke="#fff" stroke-width="0.75"/><rect x="-1.2" y="-2.2" width="2.4" height="2.6"/><rect x="-3.4" y="0.9" width="6.8" height="5"/></g>
<circle cx="252.5" cy="216.8" r="7.9" fill="#9c9c9c"/>
<g transform="translate(252.5,216.8)" fill="#fff" stroke="none"><rect x="-3.9" y="-4.9" width="7.8" height="1.2"/><path d="M-3.4 -3.8H3.4L2.6 4.8H-2.6Z"/><circle cx="0" cy="0.3" r="1.35" fill="none" stroke="#9c9c9c" stroke-width="0.8"/></g>
<circle cx="252.5" cy="236" r="7.9" fill="#9c9c9c"/>
<g transform="translate(252.5,236)" fill="#fff" stroke="none"><path d="M-3.8 -0.6H3.4V2.2Q3.4 4.2 1.4 4.2H-1.8Q-3.8 4.2 -3.8 2.2Z"/><circle cx="4.2" cy="1.1" r="1.35" fill="none" stroke="#fff" stroke-width="0.85"/><rect x="-4.8" y="4.9" width="9.8" height="0.95"/><rect x="-0.4" y="-3.6" width="0.8" height="2.2"/></g>
<circle cx="239.5" cy="256.7" r="8.4" fill="#9c9c9c"/>
<g transform="translate(239.5,256.7)" fill="#fff" stroke="none"><text x="0" y="5" font-size="14.5" font-weight="bold" fill="#fff" text-anchor="middle">P</text></g>
<circle cx="252.6" cy="288.1" r="7.9" fill="#9c9c9c"/>
<g transform="translate(252.6,288.1)" fill="#fff" stroke="none"><path d="M-4.8 -0.9L0 -3.9L4.8 -0.9Z"/><rect x="-4" y="-0.9" width="8" height="5.4"/><rect x="-2.5" y="0.6" width="5" height="3.9" fill="#a8a8a8"/></g>
<circle cx="214.6" cy="355" r="7.9" fill="#9c9c9c"/>
<g transform="translate(214.6,355)" fill="#fff" stroke="none"><rect x="0" y="-4.4" width="5.6" height="9.3" rx="0.5"/><rect x="0.9" y="-3.4" width="3.8" height="2.6" fill="#9c9c9c"/><path d="M0.5 -3.5Q-2.5 -3 -2.5 0L-2.5 2.5Q-3.2 3.5 -3.2 4" fill="none" stroke="#fff" stroke-width="0.8"/></g>
<circle cx="247.7" cy="350.6" r="7.9" fill="#9c9c9c"/>
<g transform="translate(247.7,350.6)" fill="#fff" stroke="none"><path d="M-4.8 -1.4L-3.8 -4.2L-2 -2.2L0 -3L2 -2.2L3.8 -4.2L4.8 -1.4L3.4 1.6H-3.4Z"/><rect x="-2.4" y="1.6" width="4.8" height="4.8"/><path d="M-3.4 -0.2H3.4" stroke="#9c9c9c" stroke-width="0.6"/></g>
<circle cx="827.8" cy="170.9" r="7.9" fill="#9c9c9c"/>
<g transform="translate(827.8,170.9)" fill="#fff" stroke="none"><circle cx="-3.2" cy="-4.3" r="1.35"/><circle cx="3.3" cy="-4.3" r="1.35"/><path d="M-5.3 -2.6H-1.1V2.2H-1.9V5.6H-4.5V2.2H-5.3Z"/><path d="M1.6 -2.6H5L6 2.3H5V5.6H2.2V2.3H0.8Z"/><rect x="-0.2" y="-5.4" width="0.45" height="10.8" fill="#d0d0d0"/></g>
<circle cx="850.6" cy="183.4" r="7.9" fill="#9c9c9c"/>
<g transform="translate(850.6,183.4)" fill="#fff" stroke="none"><rect x="-3.1" y="-2" width="6.2" height="8" rx="0.3"/><rect x="-1.2" y="-5" width="2.4" height="3" fill="none" stroke="#fff" stroke-width="0.8"/></g>
<circle cx="827.5" cy="190.4" r="7.9" fill="#9c9c9c"/>
<g transform="translate(827.5,190.4)" fill="#fff" stroke="none"><path d="M0 -6L-1.6 -2.9H1.6Z" fill="none" stroke="#fff" stroke-width="0.75"/><rect x="-1.2" y="-2.2" width="2.4" height="2.6"/><rect x="-3.4" y="0.9" width="6.8" height="5"/></g>
<circle cx="827.6" cy="209" r="7.9" fill="#9c9c9c"/>
<g transform="translate(827.6,209)" fill="#fff" stroke="none"><path d="M-3.8 -0.6H3.4V2.2Q3.4 4.2 1.4 4.2H-1.8Q-3.8 4.2 -3.8 2.2Z"/><circle cx="4.2" cy="1.1" r="1.35" fill="none" stroke="#fff" stroke-width="0.85"/><rect x="-4.8" y="4.9" width="9.8" height="0.95"/><rect x="-0.4" y="-3.6" width="0.8" height="2.2"/></g>
<circle cx="852.8" cy="221.5" r="8.4" fill="#9c9c9c"/>
<g transform="translate(852.8,221.5)" fill="#fff" stroke="none"><text x="0" y="5" font-size="14.5" font-weight="bold" fill="#fff" text-anchor="middle">P</text></g>
<circle cx="827.5" cy="235.5" r="7.9" fill="#9c9c9c"/>
<g transform="translate(827.5,235.5)" fill="#fff" stroke="none"><circle cx="-3.2" cy="-4.3" r="1.35"/><circle cx="3.3" cy="-4.3" r="1.35"/><path d="M-5.3 -2.6H-1.1V2.2H-1.9V5.6H-4.5V2.2H-5.3Z"/><path d="M1.6 -2.6H5L6 2.3H5V5.6H2.2V2.3H0.8Z"/><rect x="-0.2" y="-5.4" width="0.45" height="10.8" fill="#d0d0d0"/></g>
<circle cx="827.5" cy="252.3" r="7.9" fill="#9c9c9c"/>
<g transform="translate(827.5,252.3)" fill="#fff" stroke="none"><path d="M0 -6L-1.6 -2.9H1.6Z" fill="none" stroke="#fff" stroke-width="0.75"/><rect x="-1.2" y="-2.2" width="2.4" height="2.6"/><rect x="-3.4" y="0.9" width="6.8" height="5"/></g>
<circle cx="827.4" cy="270.6" r="7.9" fill="#9c9c9c"/>
<g transform="translate(827.4,270.6)" fill="#fff" stroke="none"><rect x="-3.9" y="-5.2" width="7.8" height="10" rx="0.4"/><circle cx="0" cy="1" r="2.5" fill="none" stroke="#9c9c9c" stroke-width="0.9"/><rect x="-3" y="-3.6" width="6" height="0.6" fill="#9c9c9c"/></g>
<circle cx="852.2" cy="268.6" r="7.9" fill="#9c9c9c"/>
<g transform="translate(852.2,268.6)" fill="#fff" stroke="none"><rect x="-3.9" y="-4.9" width="7.8" height="1.2"/><path d="M-3.4 -3.8H3.4L2.6 4.8H-2.6Z"/><circle cx="0" cy="0.3" r="1.35" fill="none" stroke="#9c9c9c" stroke-width="0.8"/></g>
<circle cx="774.4" cy="312.9" r="7.9" fill="#9c9c9c"/>
<g transform="translate(774.4,312.9)" fill="#fff" stroke="none"><rect x="-3" y="-2.6" width="6.6" height="4" fill="none" stroke="#fff" stroke-width="0.9"/><path d="M-5.6 2.1H5.9L5.2 3.5H-4.6Z"/></g>
<circle cx="802.2" cy="311.4" r="7.9" fill="#9c9c9c"/>
<g transform="translate(802.2,311.4)" fill="#fff" stroke="none"><path d="M-2.8 -1.8L3.6 4.4" fill="none" stroke="#fff" stroke-width="2" stroke-linecap="round"/><circle cx="-3" cy="-2.4" r="2.5"/><path d="M-4.6 -4.8L-3.4 -2.6L-5.6 -2.2Z" fill="#9c9c9c"/><circle cx="4.2" cy="5" r="0.8" fill="#9c9c9c"/></g>
<circle cx="656.7" cy="6.7" r="7.9" fill="#9c9c9c"/>
<g transform="translate(656.7,6.7)" fill="#fff" stroke="none"><g opacity="0.6"><circle cx="-2.7" cy="1.3" r="2.1" fill="none" stroke="#fff" stroke-width="0.7"/><circle cx="2.7" cy="1.3" r="2.1" fill="none" stroke="#fff" stroke-width="0.7"/><path d="M-2.7 1.3l1.6 -3h3l-1 3h-2.2M-1.1 -1.7l-0.4 -1h1.2M1.9 -1.7l0.8 3" fill="none" stroke="#fff" stroke-width="0.7"/></g></g>
<circle cx="677.5" cy="7" r="8.4" fill="#9c9c9c"/>
<g transform="translate(677.5,7)" fill="#fff" stroke="none"><text x="0" y="5" font-size="14.5" font-weight="bold" fill="#fff" text-anchor="middle">P</text></g>
<circle cx="230.8" cy="349.7" r="3.4" fill="#e30613"/>
</svg></body></html>
